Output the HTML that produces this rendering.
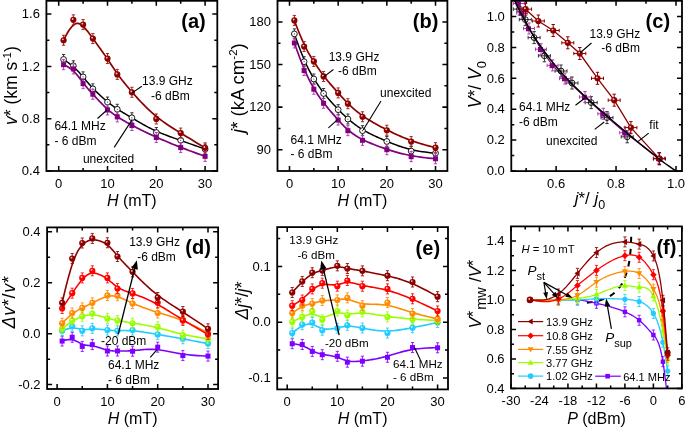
<!DOCTYPE html>
<html><head><meta charset="utf-8"><style>
html,body{margin:0;padding:0;background:#fff;overflow:hidden;}
svg{display:block;filter:blur(0.3px);}
</style></head><body>
<svg width="685" height="428" viewBox="0 0 685 428" font-family='"Liberation Sans", sans-serif'>
<defs>
<clipPath id="ca"><rect x="46.40" y="0.80" width="170.90" height="170.20"/></clipPath>
<clipPath id="cb"><rect x="277.50" y="0.80" width="169.90" height="170.20"/></clipPath>
<clipPath id="cc"><rect x="511.30" y="0.80" width="170.70" height="170.30"/></clipPath>
<clipPath id="cd"><rect x="47.10" y="227.40" width="171.00" height="161.60"/></clipPath>
<clipPath id="ce"><rect x="277.20" y="227.10" width="170.80" height="162.30"/></clipPath>
<clipPath id="cf"><rect x="511.00" y="226.40" width="170.90" height="162.00"/></clipPath>
</defs>
<rect width="685" height="428" fill="#fff"/>
<path d="M58.70,171.00V166.00 M58.70,0.80V5.80 M107.50,171.00V166.00 M107.50,0.80V5.80 M156.30,171.00V166.00 M156.30,0.80V5.80 M205.10,171.00V166.00 M205.10,0.80V5.80 M83.10,171.00V168.00 M83.10,0.80V3.80 M131.90,171.00V168.00 M131.90,0.80V3.80 M180.70,171.00V168.00 M180.70,0.80V3.80 M46.40,171.00H51.40 M217.30,171.00H212.30 M46.40,118.70H51.40 M217.30,118.70H212.30 M46.40,66.40H51.40 M217.30,66.40H212.30 M46.40,14.10H51.40 M217.30,14.10H212.30 M46.40,144.85H49.40 M217.30,144.85H214.30 M46.40,92.55H49.40 M217.30,92.55H214.30 M46.40,40.25H49.40 M217.30,40.25H214.30 " stroke="#000" stroke-width="1.53" fill="none"/>
<text x="58.70" y="187.50" text-anchor="middle" font-size="13">0</text>
<text x="107.50" y="187.50" text-anchor="middle" font-size="13">10</text>
<text x="156.30" y="187.50" text-anchor="middle" font-size="13">20</text>
<text x="205.10" y="187.50" text-anchor="middle" font-size="13">30</text>
<text x="39.90" y="175.29" text-anchor="end" font-size="13">0.4</text>
<text x="39.90" y="122.99" text-anchor="end" font-size="13">0.8</text>
<text x="39.90" y="70.69" text-anchor="end" font-size="13">1.2</text>
<text x="39.90" y="18.39" text-anchor="end" font-size="13">1.6</text>
<path d="M63.58,59.47 L65.01,60.41 L66.37,61.33 L67.66,62.25 L68.88,63.15 L70.05,64.04 L71.16,64.92 L72.21,65.79 L73.21,66.65 L74.16,67.50 L75.07,68.34 L75.93,69.16 L76.76,69.98 L77.54,70.78 L78.30,71.57 L79.02,72.35 L79.72,73.12 L80.39,73.88 L81.04,74.63 L81.67,75.36 L82.29,76.09 L82.89,76.80 L83.48,77.50 L84.07,78.19 L84.64,78.87 L85.21,79.54 L85.77,80.21 L86.33,80.87 L86.88,81.52 L87.43,82.16 L87.98,82.80 L88.53,83.44 L89.08,84.07 L89.63,84.70 L90.19,85.33 L90.75,85.95 L91.32,86.58 L91.89,87.20 L92.48,87.83 L93.07,88.46 L93.67,89.09 L94.29,89.72 L94.92,90.35 L95.55,90.99 L96.20,91.62 L96.85,92.26 L97.51,92.89 L98.17,93.52 L98.84,94.15 L99.51,94.77 L100.18,95.39 L100.85,96.00 L101.52,96.61 L102.19,97.21 L102.85,97.79 L103.51,98.37 L104.16,98.94 L104.81,99.50 L105.44,100.04 L106.07,100.58 L106.69,101.09 L107.29,101.59 L107.88,102.08 L108.47,102.56 L109.04,103.02 L109.61,103.47 L110.17,103.91 L110.73,104.35 L111.28,104.77 L111.83,105.18 L112.38,105.59 L112.93,105.99 L113.48,106.39 L114.03,106.79 L114.59,107.18 L115.15,107.56 L115.72,107.95 L116.29,108.34 L116.88,108.72 L117.47,109.11 L118.07,109.50 L118.69,109.90 L119.32,110.30 L119.96,110.70 L120.62,111.11 L121.29,111.52 L121.97,111.94 L122.68,112.37 L123.40,112.80 L124.13,113.24 L124.89,113.69 L125.66,114.15 L126.45,114.63 L127.26,115.11 L128.09,115.60 L128.94,116.10 L129.81,116.62 L130.71,117.15 L131.62,117.70 L132.56,118.26 L133.53,118.83 L134.51,119.42 L135.53,120.02 L136.57,120.64 L137.63,121.27 L138.72,121.91 L139.83,122.56 L140.97,123.22 L142.14,123.89 L143.34,124.56 L144.56,125.24 L145.81,125.92 L147.08,126.60 L148.39,127.29 L149.72,127.97 L151.08,128.66 L152.47,129.34 L153.89,130.02 L155.34,130.69 L156.82,131.36 L158.33,132.03 L159.87,132.68 L161.45,133.33 L163.08,133.98 L164.76,134.64 L166.50,135.31 L168.31,135.98 L170.19,136.68 L172.16,137.39 L174.22,138.14 L176.38,138.91 L178.65,139.71 L181.03,140.56 L183.53,141.44 L186.16,142.37 L188.93,143.35 L191.84,144.39 L194.91,145.48 L198.14,146.64 L201.53,147.87 L205.10,149.16" stroke="#000" stroke-width="1.50" fill="none"/>
<path d="M63.58,54.47V64.47 M61.98,54.47H65.18 M61.98,64.47H65.18 " stroke="#333" stroke-width="1.00" fill="none"/>
<path d="M73.34,60.75V70.75 M71.74,60.75H74.94 M71.74,70.75H74.94 " stroke="#333" stroke-width="1.00" fill="none"/>
<path d="M83.10,71.86V81.86 M81.50,71.86H84.70 M81.50,81.86H84.70 " stroke="#333" stroke-width="1.00" fill="none"/>
<path d="M92.86,83.89V93.89 M91.26,83.89H94.46 M91.26,93.89H94.46 " stroke="#333" stroke-width="1.00" fill="none"/>
<path d="M107.50,97.09V107.09 M105.90,97.09H109.10 M105.90,107.09H109.10 " stroke="#333" stroke-width="1.00" fill="none"/>
<path d="M117.26,104.29V114.29 M115.66,104.29H118.86 M115.66,114.29H118.86 " stroke="#333" stroke-width="1.00" fill="none"/>
<path d="M131.90,112.78V122.78 M130.30,112.78H133.50 M130.30,122.78H133.50 " stroke="#333" stroke-width="1.00" fill="none"/>
<path d="M156.30,127.56V137.56 M154.70,127.56H157.90 M154.70,137.56H157.90 " stroke="#333" stroke-width="1.00" fill="none"/>
<path d="M180.70,135.27V145.27 M179.10,135.27H182.30 M179.10,145.27H182.30 " stroke="#333" stroke-width="1.00" fill="none"/>
<path d="M205.10,144.16V154.16 M203.50,144.16H206.70 M203.50,154.16H206.70 " stroke="#333" stroke-width="1.00" fill="none"/>
<circle cx="63.58" cy="59.47" r="2.90" fill="#fff" stroke="#000" stroke-width="0.9"/><circle cx="63.58" cy="59.47" r="0.6" fill="#444"/>
<circle cx="73.34" cy="65.75" r="2.90" fill="#fff" stroke="#000" stroke-width="0.9"/><circle cx="73.34" cy="65.75" r="0.6" fill="#444"/>
<circle cx="83.10" cy="76.86" r="2.90" fill="#fff" stroke="#000" stroke-width="0.9"/><circle cx="83.10" cy="76.86" r="0.6" fill="#444"/>
<circle cx="92.86" cy="88.89" r="2.90" fill="#fff" stroke="#000" stroke-width="0.9"/><circle cx="92.86" cy="88.89" r="0.6" fill="#444"/>
<circle cx="107.50" cy="102.09" r="2.90" fill="#fff" stroke="#000" stroke-width="0.9"/><circle cx="107.50" cy="102.09" r="0.6" fill="#444"/>
<circle cx="117.26" cy="109.29" r="2.90" fill="#fff" stroke="#000" stroke-width="0.9"/><circle cx="117.26" cy="109.29" r="0.6" fill="#444"/>
<circle cx="131.90" cy="117.78" r="2.90" fill="#fff" stroke="#000" stroke-width="0.9"/><circle cx="131.90" cy="117.78" r="0.6" fill="#444"/>
<circle cx="156.30" cy="132.56" r="2.90" fill="#fff" stroke="#000" stroke-width="0.9"/><circle cx="156.30" cy="132.56" r="0.6" fill="#444"/>
<circle cx="180.70" cy="140.27" r="2.90" fill="#fff" stroke="#000" stroke-width="0.9"/><circle cx="180.70" cy="140.27" r="0.6" fill="#444"/>
<circle cx="205.10" cy="149.16" r="2.90" fill="#fff" stroke="#000" stroke-width="0.9"/><circle cx="205.10" cy="149.16" r="0.6" fill="#444"/>
<path d="M63.58,64.70 L65.01,65.35 L66.37,66.05 L67.66,66.78 L68.88,67.55 L70.05,68.36 L71.16,69.19 L72.21,70.05 L73.21,70.93 L74.16,71.83 L75.07,72.74 L75.93,73.66 L76.76,74.58 L77.54,75.51 L78.30,76.44 L79.02,77.35 L79.72,78.26 L80.39,79.16 L81.04,80.04 L81.67,80.90 L82.29,81.73 L82.89,82.54 L83.48,83.31 L84.07,84.07 L84.64,84.80 L85.21,85.51 L85.77,86.20 L86.33,86.87 L86.88,87.53 L87.43,88.18 L87.98,88.82 L88.53,89.45 L89.08,90.07 L89.63,90.69 L90.19,91.31 L90.75,91.93 L91.32,92.55 L91.89,93.18 L92.48,93.81 L93.07,94.45 L93.67,95.10 L94.29,95.76 L94.92,96.44 L95.55,97.12 L96.20,97.81 L96.85,98.51 L97.51,99.21 L98.17,99.91 L98.84,100.62 L99.51,101.32 L100.18,102.02 L100.85,102.71 L101.52,103.40 L102.19,104.08 L102.85,104.75 L103.51,105.41 L104.16,106.06 L104.81,106.69 L105.44,107.31 L106.07,107.90 L106.69,108.48 L107.29,109.03 L107.88,109.57 L108.47,110.08 L109.04,110.58 L109.61,111.06 L110.17,111.53 L110.73,111.98 L111.28,112.41 L111.83,112.84 L112.38,113.26 L112.93,113.67 L113.48,114.07 L114.03,114.46 L114.59,114.85 L115.15,115.23 L115.72,115.62 L116.29,116.00 L116.88,116.38 L117.47,116.77 L118.07,117.15 L118.69,117.54 L119.32,117.94 L119.96,118.34 L120.62,118.74 L121.29,119.16 L121.97,119.57 L122.68,119.99 L123.40,120.42 L124.13,120.85 L124.89,121.29 L125.66,121.74 L126.45,122.19 L127.26,122.65 L128.09,123.11 L128.94,123.59 L129.81,124.07 L130.71,124.55 L131.62,125.05 L132.56,125.55 L133.53,126.07 L134.51,126.59 L135.53,127.12 L136.57,127.65 L137.63,128.20 L138.72,128.75 L139.83,129.32 L140.97,129.89 L142.14,130.47 L143.34,131.05 L144.56,131.65 L145.81,132.25 L147.08,132.86 L148.39,133.48 L149.72,134.11 L151.08,134.75 L152.47,135.39 L153.89,136.04 L155.34,136.70 L156.82,137.37 L158.33,138.04 L159.87,138.72 L161.45,139.42 L163.08,140.12 L164.76,140.84 L166.50,141.58 L168.31,142.33 L170.19,143.11 L172.16,143.92 L174.22,144.75 L176.38,145.61 L178.65,146.50 L181.03,147.43 L183.53,148.39 L186.16,149.39 L188.93,150.43 L191.84,151.52 L194.91,152.65 L198.14,153.84 L201.53,155.07 L205.10,156.36" stroke="#800080" stroke-width="1.70" fill="none"/>
<path d="M63.58,59.70V69.70 M61.98,59.70H65.18 M61.98,69.70H65.18 " stroke="#b040b0" stroke-width="1.00" fill="none"/>
<path d="M73.34,63.88V73.88 M71.74,63.88H74.94 M71.74,73.88H74.94 " stroke="#b040b0" stroke-width="1.00" fill="none"/>
<path d="M83.10,78.66V88.66 M81.50,78.66H84.70 M81.50,88.66H84.70 " stroke="#b040b0" stroke-width="1.00" fill="none"/>
<path d="M92.86,89.25V99.25 M91.26,89.25H94.46 M91.26,99.25H94.46 " stroke="#b040b0" stroke-width="1.00" fill="none"/>
<path d="M107.50,104.94V114.94 M105.90,104.94H109.10 M105.90,114.94H109.10 " stroke="#b040b0" stroke-width="1.00" fill="none"/>
<path d="M117.26,111.87V121.87 M115.66,111.87H118.86 M115.66,121.87H118.86 " stroke="#b040b0" stroke-width="1.00" fill="none"/>
<path d="M131.90,120.50V130.50 M130.30,120.50H133.50 M130.30,130.50H133.50 " stroke="#b040b0" stroke-width="1.00" fill="none"/>
<path d="M156.30,132.53V142.53 M154.70,132.53H157.90 M154.70,142.53H157.90 " stroke="#b040b0" stroke-width="1.00" fill="none"/>
<path d="M180.70,142.60V152.60 M179.10,142.60H182.30 M179.10,152.60H182.30 " stroke="#b040b0" stroke-width="1.00" fill="none"/>
<path d="M205.10,151.36V161.36 M203.50,151.36H206.70 M203.50,161.36H206.70 " stroke="#b040b0" stroke-width="1.00" fill="none"/>
<rect x="61.08" y="62.20" width="5.00" height="5.00" fill="#800080"/>
<rect x="70.84" y="66.38" width="5.00" height="5.00" fill="#800080"/>
<rect x="80.60" y="81.16" width="5.00" height="5.00" fill="#800080"/>
<rect x="90.36" y="91.75" width="5.00" height="5.00" fill="#800080"/>
<rect x="105.00" y="107.44" width="5.00" height="5.00" fill="#800080"/>
<rect x="114.76" y="114.37" width="5.00" height="5.00" fill="#800080"/>
<rect x="129.40" y="123.00" width="5.00" height="5.00" fill="#800080"/>
<rect x="153.80" y="135.03" width="5.00" height="5.00" fill="#800080"/>
<rect x="178.20" y="145.10" width="5.00" height="5.00" fill="#800080"/>
<rect x="202.60" y="153.86" width="5.00" height="5.00" fill="#800080"/>
<path d="M63.58,40.25 L65.01,37.36 L66.37,34.79 L67.66,32.53 L68.88,30.57 L70.05,28.88 L71.16,27.45 L72.21,26.27 L73.21,25.31 L74.16,24.57 L75.07,24.02 L75.93,23.65 L76.76,23.44 L77.54,23.38 L78.30,23.45 L79.02,23.64 L79.72,23.92 L80.39,24.29 L81.04,24.72 L81.67,25.20 L82.29,25.71 L82.89,26.25 L83.48,26.80 L84.07,27.37 L84.64,27.96 L85.21,28.56 L85.77,29.18 L86.33,29.82 L86.88,30.47 L87.43,31.14 L87.98,31.82 L88.53,32.53 L89.08,33.24 L89.63,33.98 L90.19,34.73 L90.75,35.49 L91.32,36.27 L91.89,37.07 L92.48,37.88 L93.07,38.71 L93.67,39.55 L94.29,40.41 L94.92,41.28 L95.55,42.16 L96.20,43.06 L96.85,43.96 L97.51,44.88 L98.17,45.80 L98.84,46.72 L99.51,47.66 L100.18,48.59 L100.85,49.53 L101.52,50.47 L102.19,51.40 L102.85,52.34 L103.51,53.28 L104.16,54.21 L104.81,55.13 L105.44,56.05 L106.07,56.96 L106.69,57.86 L107.29,58.75 L107.88,59.63 L108.47,60.50 L109.04,61.36 L109.61,62.22 L110.17,63.07 L110.73,63.92 L111.28,64.75 L111.83,65.59 L112.38,66.42 L112.93,67.25 L113.48,68.08 L114.03,68.90 L114.59,69.73 L115.15,70.56 L115.72,71.38 L116.29,72.21 L116.88,73.05 L117.47,73.88 L118.07,74.72 L118.69,75.57 L119.32,76.42 L119.96,77.28 L120.62,78.15 L121.29,79.02 L121.97,79.91 L122.68,80.80 L123.40,81.71 L124.13,82.63 L124.89,83.56 L125.66,84.50 L126.45,85.46 L127.26,86.43 L128.09,87.42 L128.94,88.43 L129.81,89.46 L130.71,90.50 L131.62,91.56 L132.56,92.64 L133.53,93.75 L134.51,94.87 L135.53,96.02 L136.57,97.18 L137.63,98.36 L138.72,99.56 L139.83,100.77 L140.97,101.99 L142.14,103.21 L143.34,104.45 L144.56,105.69 L145.81,106.94 L147.08,108.19 L148.39,109.44 L149.72,110.69 L151.08,111.93 L152.47,113.17 L153.89,114.40 L155.34,115.63 L156.82,116.84 L158.33,118.05 L159.87,119.24 L161.45,120.42 L163.08,121.60 L164.76,122.79 L166.50,123.99 L168.31,125.21 L170.19,126.45 L172.16,127.73 L174.22,129.04 L176.38,130.40 L178.65,131.81 L181.03,133.28 L183.53,134.81 L186.16,136.41 L188.93,138.09 L191.84,139.85 L194.91,141.70 L198.14,143.65 L201.53,145.70 L205.10,147.86" stroke="#8e0000" stroke-width="1.70" fill="none"/>
<path d="M63.58,35.25V45.25 M61.98,35.25H65.18 M61.98,45.25H65.18 " stroke="#a82222" stroke-width="1.00" fill="none"/>
<path d="M73.34,14.85V24.85 M71.74,14.85H74.94 M71.74,24.85H74.94 " stroke="#a82222" stroke-width="1.00" fill="none"/>
<path d="M83.10,19.56V29.56 M81.50,19.56H84.70 M81.50,29.56H84.70 " stroke="#a82222" stroke-width="1.00" fill="none"/>
<path d="M92.86,33.55V43.55 M91.26,33.55H94.46 M91.26,43.55H94.46 " stroke="#a82222" stroke-width="1.00" fill="none"/>
<path d="M107.50,53.56V63.56 M105.90,53.56H109.10 M105.90,63.56H109.10 " stroke="#a82222" stroke-width="1.00" fill="none"/>
<path d="M117.26,69.38V79.38 M115.66,69.38H118.86 M115.66,79.38H118.86 " stroke="#a82222" stroke-width="1.00" fill="none"/>
<path d="M131.90,87.29V97.29 M130.30,87.29H133.50 M130.30,97.29H133.50 " stroke="#a82222" stroke-width="1.00" fill="none"/>
<path d="M156.30,113.96V123.96 M154.70,113.96H157.90 M154.70,123.96H157.90 " stroke="#a82222" stroke-width="1.00" fill="none"/>
<path d="M180.70,128.08V138.08 M179.10,128.08H182.30 M179.10,138.08H182.30 " stroke="#a82222" stroke-width="1.00" fill="none"/>
<path d="M205.10,142.86V152.86 M203.50,142.86H206.70 M203.50,152.86H206.70 " stroke="#a82222" stroke-width="1.00" fill="none"/>
<circle cx="63.58" cy="40.25" r="3.10" fill="#8e0000"/><circle cx="62.88" cy="39.35" r="0.93" fill="#fff" fill-opacity="0.75"/>
<circle cx="73.34" cy="19.85" r="3.10" fill="#8e0000"/><circle cx="72.64" cy="18.95" r="0.93" fill="#fff" fill-opacity="0.75"/>
<circle cx="83.10" cy="24.56" r="3.10" fill="#8e0000"/><circle cx="82.40" cy="23.66" r="0.93" fill="#fff" fill-opacity="0.75"/>
<circle cx="92.86" cy="38.55" r="3.10" fill="#8e0000"/><circle cx="92.16" cy="37.65" r="0.93" fill="#fff" fill-opacity="0.75"/>
<circle cx="107.50" cy="58.56" r="3.10" fill="#8e0000"/><circle cx="106.80" cy="57.66" r="0.93" fill="#fff" fill-opacity="0.75"/>
<circle cx="117.26" cy="74.38" r="3.10" fill="#8e0000"/><circle cx="116.56" cy="73.48" r="0.93" fill="#fff" fill-opacity="0.75"/>
<circle cx="131.90" cy="92.29" r="3.10" fill="#8e0000"/><circle cx="131.20" cy="91.39" r="0.93" fill="#fff" fill-opacity="0.75"/>
<circle cx="156.30" cy="118.96" r="3.10" fill="#8e0000"/><circle cx="155.60" cy="118.06" r="0.93" fill="#fff" fill-opacity="0.75"/>
<circle cx="180.70" cy="133.08" r="3.10" fill="#8e0000"/><circle cx="180.00" cy="132.18" r="0.93" fill="#fff" fill-opacity="0.75"/>
<circle cx="205.10" cy="147.86" r="3.10" fill="#8e0000"/><circle cx="204.40" cy="146.96" r="0.93" fill="#fff" fill-opacity="0.75"/>
<rect x="46.40" y="0.80" width="170.90" height="170.20" fill="none" stroke="#000" stroke-width="1.80"/>
<text x="181.30" y="27.90" font-size="20" text-anchor="start" font-weight="bold">(a)</text>
<text x="142.10" y="84.60" font-size="12" text-anchor="start" >13.9 GHz</text>
<text x="151.10" y="99.50" font-size="12" text-anchor="start" >-6 dBm</text>
<line x1="141.80" y1="86.30" x2="132.50" y2="92.60" stroke="#000" stroke-width="1.10"/>
<text x="54.40" y="130.30" font-size="12" text-anchor="start" >64.1 MHz</text>
<text x="54.40" y="144.90" font-size="12" text-anchor="start" >- 6 dBm</text>
<line x1="97.50" y1="118.50" x2="107.00" y2="110.00" stroke="#000" stroke-width="1.10"/>
<text x="82.90" y="162.90" font-size="12" text-anchor="start" >unexcited</text>
<line x1="114.20" y1="147.40" x2="132.30" y2="119.40" stroke="#000" stroke-width="1.10"/>
<text x="131.80" y="205.90" font-size="16" text-anchor="middle" ><tspan font-style="italic">H</tspan> (mT)</text>
<text transform="translate(17.30,125.00) rotate(-90)" font-size="17.5" letter-spacing="0"><tspan font-style="italic">v</tspan>* (km s<tspan font-size="11" dy="-6.5">-1</tspan><tspan dy="6.5">)</tspan></text>
<path d="M289.50,171.00V166.00 M289.50,0.80V5.80 M338.17,171.00V166.00 M338.17,0.80V5.80 M386.84,171.00V166.00 M386.84,0.80V5.80 M435.51,171.00V166.00 M435.51,0.80V5.80 M313.83,171.00V168.00 M313.83,0.80V3.80 M362.50,171.00V168.00 M362.50,0.80V3.80 M411.18,171.00V168.00 M411.18,0.80V3.80 M277.50,149.69H282.50 M447.40,149.69H442.40 M277.50,107.12H282.50 M447.40,107.12H442.40 M277.50,64.55H282.50 M447.40,64.55H442.40 M277.50,21.98H282.50 M447.40,21.98H442.40 M277.50,128.40H280.50 M447.40,128.40H444.40 M277.50,85.83H280.50 M447.40,85.83H444.40 M277.50,43.26H280.50 M447.40,43.26H444.40 " stroke="#000" stroke-width="1.53" fill="none"/>
<text x="289.50" y="187.50" text-anchor="middle" font-size="13">0</text>
<text x="338.17" y="187.50" text-anchor="middle" font-size="13">10</text>
<text x="386.84" y="187.50" text-anchor="middle" font-size="13">20</text>
<text x="435.51" y="187.50" text-anchor="middle" font-size="13">30</text>
<text x="271.00" y="153.98" text-anchor="end" font-size="13">90</text>
<text x="271.00" y="111.41" text-anchor="end" font-size="13">120</text>
<text x="271.00" y="68.84" text-anchor="end" font-size="13">150</text>
<text x="271.00" y="26.27" text-anchor="end" font-size="13">180</text>
<path d="M294.37,33.90 L295.79,37.93 L297.15,41.69 L298.43,45.18 L299.66,48.43 L300.82,51.44 L301.92,54.22 L302.97,56.80 L303.97,59.18 L304.92,61.38 L305.82,63.41 L306.69,65.27 L307.51,67.00 L308.29,68.59 L309.05,70.06 L309.77,71.42 L310.46,72.70 L311.13,73.89 L311.78,75.01 L312.41,76.08 L313.02,77.11 L313.63,78.11 L314.22,79.07 L314.80,80.02 L315.37,80.94 L315.94,81.84 L316.50,82.72 L317.05,83.58 L317.61,84.42 L318.15,85.24 L318.70,86.06 L319.25,86.86 L319.80,87.65 L320.35,88.43 L320.91,89.20 L321.47,89.97 L322.03,90.73 L322.60,91.49 L323.19,92.26 L323.78,93.02 L324.38,93.78 L324.99,94.55 L325.62,95.32 L326.25,96.09 L326.90,96.87 L327.55,97.64 L328.21,98.42 L328.87,99.19 L329.53,99.96 L330.20,100.72 L330.87,101.48 L331.54,102.23 L332.21,102.98 L332.87,103.71 L333.53,104.44 L334.19,105.16 L334.84,105.86 L335.48,106.55 L336.12,107.23 L336.74,107.89 L337.36,108.54 L337.96,109.17 L338.55,109.78 L339.13,110.38 L339.71,110.97 L340.27,111.54 L340.83,112.10 L341.39,112.66 L341.94,113.20 L342.49,113.73 L343.04,114.26 L343.58,114.78 L344.13,115.30 L344.69,115.82 L345.24,116.33 L345.80,116.84 L346.37,117.35 L346.94,117.86 L347.52,118.38 L348.11,118.90 L348.72,119.42 L349.33,119.95 L349.96,120.48 L350.60,121.02 L351.25,121.56 L351.92,122.11 L352.61,122.66 L353.31,123.21 L354.02,123.77 L354.76,124.33 L355.51,124.89 L356.28,125.45 L357.07,126.01 L357.87,126.58 L358.70,127.15 L359.55,127.71 L360.42,128.28 L361.31,128.84 L362.23,129.41 L363.17,129.97 L364.13,130.53 L365.11,131.09 L366.12,131.65 L367.16,132.21 L368.22,132.76 L369.30,133.32 L370.42,133.88 L371.55,134.44 L372.72,135.00 L373.91,135.56 L375.13,136.13 L376.37,136.70 L377.65,137.27 L378.95,137.85 L380.28,138.43 L381.64,139.02 L383.02,139.62 L384.44,140.22 L385.89,140.83 L387.36,141.45 L388.87,142.07 L390.41,142.71 L391.98,143.35 L393.60,144.00 L395.28,144.65 L397.01,145.30 L398.81,145.94 L400.69,146.58 L402.66,147.21 L404.71,147.83 L406.87,148.44 L409.13,149.03 L411.50,149.60 L414.00,150.15 L416.62,150.68 L419.38,151.19 L422.29,151.66 L425.35,152.11 L428.56,152.52 L431.95,152.90 L435.51,153.24" stroke="#000" stroke-width="1.50" fill="none"/>
<path d="M294.37,28.90V38.90 M292.77,28.90H295.97 M292.77,38.90H295.97 " stroke="#333" stroke-width="1.00" fill="none"/>
<path d="M304.10,56.71V66.71 M302.50,56.71H305.70 M302.50,66.71H305.70 " stroke="#333" stroke-width="1.00" fill="none"/>
<path d="M313.83,74.02V84.02 M312.23,74.02H315.44 M312.23,84.02H315.44 " stroke="#333" stroke-width="1.00" fill="none"/>
<path d="M323.57,88.50V98.50 M321.97,88.50H325.17 M321.97,98.50H325.17 " stroke="#333" stroke-width="1.00" fill="none"/>
<path d="M338.17,104.67V114.67 M336.57,104.67H339.77 M336.57,114.67H339.77 " stroke="#333" stroke-width="1.00" fill="none"/>
<path d="M347.90,114.04V124.04 M346.30,114.04H349.50 M346.30,124.04H349.50 " stroke="#333" stroke-width="1.00" fill="none"/>
<path d="M362.50,125.68V135.68 M360.90,125.68H364.11 M360.90,135.68H364.11 " stroke="#333" stroke-width="1.00" fill="none"/>
<path d="M386.84,136.46V146.46 M385.24,136.46H388.44 M385.24,146.46H388.44 " stroke="#333" stroke-width="1.00" fill="none"/>
<path d="M411.18,146.11V156.11 M409.57,146.11H412.78 M409.57,156.11H412.78 " stroke="#333" stroke-width="1.00" fill="none"/>
<path d="M435.51,148.24V158.24 M433.91,148.24H437.11 M433.91,158.24H437.11 " stroke="#333" stroke-width="1.00" fill="none"/>
<circle cx="294.37" cy="33.90" r="2.90" fill="#fff" stroke="#000" stroke-width="0.9"/><circle cx="294.37" cy="33.90" r="0.6" fill="#444"/>
<circle cx="304.10" cy="61.71" r="2.90" fill="#fff" stroke="#000" stroke-width="0.9"/><circle cx="304.10" cy="61.71" r="0.6" fill="#444"/>
<circle cx="313.83" cy="79.02" r="2.90" fill="#fff" stroke="#000" stroke-width="0.9"/><circle cx="313.83" cy="79.02" r="0.6" fill="#444"/>
<circle cx="323.57" cy="93.50" r="2.90" fill="#fff" stroke="#000" stroke-width="0.9"/><circle cx="323.57" cy="93.50" r="0.6" fill="#444"/>
<circle cx="338.17" cy="109.67" r="2.90" fill="#fff" stroke="#000" stroke-width="0.9"/><circle cx="338.17" cy="109.67" r="0.6" fill="#444"/>
<circle cx="347.90" cy="119.04" r="2.90" fill="#fff" stroke="#000" stroke-width="0.9"/><circle cx="347.90" cy="119.04" r="0.6" fill="#444"/>
<circle cx="362.50" cy="130.68" r="2.90" fill="#fff" stroke="#000" stroke-width="0.9"/><circle cx="362.50" cy="130.68" r="0.6" fill="#444"/>
<circle cx="386.84" cy="141.46" r="2.90" fill="#fff" stroke="#000" stroke-width="0.9"/><circle cx="386.84" cy="141.46" r="0.6" fill="#444"/>
<circle cx="411.18" cy="151.11" r="2.90" fill="#fff" stroke="#000" stroke-width="0.9"/><circle cx="411.18" cy="151.11" r="0.6" fill="#444"/>
<circle cx="435.51" cy="153.24" r="2.90" fill="#fff" stroke="#000" stroke-width="0.9"/><circle cx="435.51" cy="153.24" r="0.6" fill="#444"/>
<path d="M294.37,42.98 L295.79,46.98 L297.15,50.71 L298.43,54.20 L299.66,57.45 L300.82,60.47 L301.92,63.28 L302.97,65.89 L303.97,68.31 L304.92,70.55 L305.82,72.63 L306.69,74.55 L307.51,76.33 L308.29,77.99 L309.05,79.52 L309.77,80.94 L310.46,82.28 L311.13,83.53 L311.78,84.71 L312.41,85.83 L313.02,86.90 L313.63,87.94 L314.22,88.94 L314.80,89.91 L315.37,90.86 L315.94,91.77 L316.50,92.66 L317.05,93.53 L317.61,94.38 L318.15,95.21 L318.70,96.03 L319.25,96.83 L319.80,97.62 L320.35,98.39 L320.91,99.17 L321.47,99.93 L322.03,100.69 L322.60,101.45 L323.19,102.21 L323.78,102.97 L324.38,103.74 L324.99,104.51 L325.62,105.29 L326.25,106.07 L326.90,106.86 L327.55,107.65 L328.21,108.44 L328.87,109.23 L329.53,110.02 L330.20,110.81 L330.87,111.59 L331.54,112.37 L332.21,113.14 L332.87,113.91 L333.53,114.67 L334.19,115.42 L334.84,116.17 L335.48,116.90 L336.12,117.62 L336.74,118.32 L337.36,119.02 L337.96,119.69 L338.55,120.36 L339.13,121.00 L339.71,121.64 L340.27,122.26 L340.83,122.87 L341.39,123.47 L341.94,124.06 L342.49,124.64 L343.04,125.21 L343.58,125.77 L344.13,126.32 L344.69,126.86 L345.24,127.40 L345.80,127.93 L346.37,128.45 L346.94,128.97 L347.52,129.49 L348.11,130.00 L348.72,130.51 L349.33,131.02 L349.96,131.52 L350.60,132.02 L351.25,132.52 L351.92,133.02 L352.61,133.51 L353.31,134.01 L354.02,134.50 L354.76,134.99 L355.51,135.47 L356.28,135.96 L357.07,136.44 L357.87,136.93 L358.70,137.41 L359.55,137.89 L360.42,138.37 L361.31,138.85 L362.23,139.33 L363.17,139.80 L364.13,140.28 L365.11,140.75 L366.12,141.23 L367.16,141.70 L368.22,142.17 L369.30,142.65 L370.42,143.12 L371.55,143.60 L372.72,144.07 L373.91,144.55 L375.13,145.02 L376.37,145.50 L377.65,145.98 L378.95,146.46 L380.28,146.94 L381.64,147.42 L383.02,147.91 L384.44,148.39 L385.89,148.88 L387.36,149.37 L388.87,149.87 L390.41,150.36 L391.98,150.86 L393.60,151.36 L395.28,151.86 L397.01,152.35 L398.81,152.84 L400.69,153.33 L402.66,153.81 L404.71,154.29 L406.87,154.76 L409.13,155.22 L411.50,155.67 L414.00,156.11 L416.62,156.53 L419.38,156.95 L422.29,157.34 L425.35,157.73 L428.56,158.09 L431.95,158.44 L435.51,158.77" stroke="#800080" stroke-width="1.70" fill="none"/>
<path d="M294.37,37.98V47.98 M292.77,37.98H295.97 M292.77,47.98H295.97 " stroke="#b040b0" stroke-width="1.00" fill="none"/>
<path d="M304.10,65.51V75.51 M302.50,65.51H305.70 M302.50,75.51H305.70 " stroke="#b040b0" stroke-width="1.00" fill="none"/>
<path d="M313.83,84.24V94.24 M312.23,84.24H315.44 M312.23,94.24H315.44 " stroke="#b040b0" stroke-width="1.00" fill="none"/>
<path d="M323.57,98.29V108.29 M321.97,98.29H325.17 M321.97,108.29H325.17 " stroke="#b040b0" stroke-width="1.00" fill="none"/>
<path d="M338.17,115.03V125.03 M336.57,115.03H339.77 M336.57,125.03H339.77 " stroke="#b040b0" stroke-width="1.00" fill="none"/>
<path d="M347.90,125.68V135.68 M346.30,125.68H349.50 M346.30,135.68H349.50 " stroke="#b040b0" stroke-width="1.00" fill="none"/>
<path d="M362.50,135.32V145.32 M360.90,135.32H364.11 M360.90,145.32H364.11 " stroke="#b040b0" stroke-width="1.00" fill="none"/>
<path d="M386.84,144.69V154.69 M385.24,144.69H388.44 M385.24,154.69H388.44 " stroke="#b040b0" stroke-width="1.00" fill="none"/>
<path d="M411.18,151.64V161.64 M409.57,151.64H412.78 M409.57,161.64H412.78 " stroke="#b040b0" stroke-width="1.00" fill="none"/>
<path d="M435.51,153.77V163.77 M433.91,153.77H437.11 M433.91,163.77H437.11 " stroke="#b040b0" stroke-width="1.00" fill="none"/>
<rect x="291.87" y="40.48" width="5.00" height="5.00" fill="#800080"/>
<rect x="301.60" y="68.01" width="5.00" height="5.00" fill="#800080"/>
<rect x="311.33" y="86.74" width="5.00" height="5.00" fill="#800080"/>
<rect x="321.07" y="100.79" width="5.00" height="5.00" fill="#800080"/>
<rect x="335.67" y="117.53" width="5.00" height="5.00" fill="#800080"/>
<rect x="345.40" y="128.18" width="5.00" height="5.00" fill="#800080"/>
<rect x="360.00" y="137.82" width="5.00" height="5.00" fill="#800080"/>
<rect x="384.34" y="147.19" width="5.00" height="5.00" fill="#800080"/>
<rect x="408.68" y="154.14" width="5.00" height="5.00" fill="#800080"/>
<rect x="433.01" y="156.27" width="5.00" height="5.00" fill="#800080"/>
<path d="M294.37,20.42 L295.79,24.20 L297.15,27.71 L298.43,30.97 L299.66,33.99 L300.82,36.78 L301.92,39.35 L302.97,41.72 L303.97,43.91 L304.92,45.92 L305.82,47.77 L306.69,49.47 L307.51,51.03 L308.29,52.47 L309.05,53.80 L309.77,55.04 L310.46,56.19 L311.13,57.26 L311.78,58.29 L312.41,59.26 L313.02,60.21 L313.63,61.14 L314.22,62.04 L314.80,62.94 L315.37,63.81 L315.94,64.68 L316.50,65.53 L317.05,66.37 L317.61,67.20 L318.15,68.02 L318.70,68.83 L319.25,69.63 L319.80,70.43 L320.35,71.22 L320.91,72.01 L321.47,72.79 L322.03,73.57 L322.60,74.35 L323.19,75.14 L323.78,75.92 L324.38,76.71 L324.99,77.50 L325.62,78.29 L326.25,79.08 L326.90,79.88 L327.55,80.67 L328.21,81.46 L328.87,82.26 L329.53,83.04 L330.20,83.83 L330.87,84.61 L331.54,85.39 L332.21,86.16 L332.87,86.92 L333.53,87.67 L334.19,88.42 L334.84,89.16 L335.48,89.88 L336.12,90.59 L336.74,91.30 L337.36,91.98 L337.96,92.66 L338.55,93.32 L339.13,93.97 L339.71,94.61 L340.27,95.23 L340.83,95.85 L341.39,96.46 L341.94,97.06 L342.49,97.66 L343.04,98.25 L343.58,98.84 L344.13,99.42 L344.69,100.00 L345.24,100.58 L345.80,101.16 L346.37,101.74 L346.94,102.33 L347.52,102.91 L348.11,103.50 L348.72,104.09 L349.33,104.69 L349.96,105.30 L350.60,105.91 L351.25,106.52 L351.92,107.14 L352.61,107.76 L353.31,108.39 L354.02,109.02 L354.76,109.66 L355.51,110.30 L356.28,110.94 L357.07,111.59 L357.87,112.24 L358.70,112.89 L359.55,113.54 L360.42,114.20 L361.31,114.86 L362.23,115.52 L363.17,116.18 L364.13,116.84 L365.11,117.50 L366.12,118.17 L367.16,118.84 L368.22,119.51 L369.30,120.18 L370.42,120.85 L371.55,121.53 L372.72,122.21 L373.91,122.90 L375.13,123.59 L376.37,124.29 L377.65,124.99 L378.95,125.70 L380.28,126.41 L381.64,127.13 L383.02,127.86 L384.44,128.59 L385.89,129.33 L387.36,130.08 L388.87,130.84 L390.41,131.61 L391.98,132.38 L393.60,133.17 L395.28,133.96 L397.01,134.76 L398.81,135.57 L400.69,136.39 L402.66,137.22 L404.71,138.05 L406.87,138.89 L409.13,139.74 L411.50,140.60 L414.00,141.46 L416.62,142.33 L419.38,143.21 L422.29,144.09 L425.35,144.99 L428.56,145.89 L431.95,146.79 L435.51,147.70" stroke="#8e0000" stroke-width="1.70" fill="none"/>
<path d="M294.37,15.42V25.42 M292.77,15.42H295.97 M292.77,25.42H295.97 " stroke="#a82222" stroke-width="1.00" fill="none"/>
<path d="M304.10,41.53V51.53 M302.50,41.53H305.70 M302.50,51.53H305.70 " stroke="#a82222" stroke-width="1.00" fill="none"/>
<path d="M313.83,56.43V66.43 M312.23,56.43H315.44 M312.23,66.43H315.44 " stroke="#a82222" stroke-width="1.00" fill="none"/>
<path d="M323.57,71.47V81.47 M321.97,71.47H325.17 M321.97,81.47H325.17 " stroke="#a82222" stroke-width="1.00" fill="none"/>
<path d="M338.17,87.93V97.93 M336.57,87.93H339.77 M336.57,97.93H339.77 " stroke="#a82222" stroke-width="1.00" fill="none"/>
<path d="M347.90,98.71V108.71 M346.30,98.71H349.50 M346.30,108.71H349.50 " stroke="#a82222" stroke-width="1.00" fill="none"/>
<path d="M362.50,111.77V121.77 M360.90,111.77H364.11 M360.90,121.77H364.11 " stroke="#a82222" stroke-width="1.00" fill="none"/>
<path d="M386.84,125.25V135.25 M385.24,125.25H388.44 M385.24,135.25H388.44 " stroke="#a82222" stroke-width="1.00" fill="none"/>
<path d="M411.18,136.60V146.60 M409.57,136.60H412.78 M409.57,146.60H412.78 " stroke="#a82222" stroke-width="1.00" fill="none"/>
<path d="M435.51,142.70V152.70 M433.91,142.70H437.11 M433.91,152.70H437.11 " stroke="#a82222" stroke-width="1.00" fill="none"/>
<circle cx="294.37" cy="20.42" r="3.10" fill="#8e0000"/><circle cx="293.67" cy="19.52" r="0.93" fill="#fff" fill-opacity="0.75"/>
<circle cx="304.10" cy="46.53" r="3.10" fill="#8e0000"/><circle cx="303.40" cy="45.63" r="0.93" fill="#fff" fill-opacity="0.75"/>
<circle cx="313.83" cy="61.43" r="3.10" fill="#8e0000"/><circle cx="313.13" cy="60.53" r="0.93" fill="#fff" fill-opacity="0.75"/>
<circle cx="323.57" cy="76.47" r="3.10" fill="#8e0000"/><circle cx="322.87" cy="75.57" r="0.93" fill="#fff" fill-opacity="0.75"/>
<circle cx="338.17" cy="92.93" r="3.10" fill="#8e0000"/><circle cx="337.47" cy="92.03" r="0.93" fill="#fff" fill-opacity="0.75"/>
<circle cx="347.90" cy="103.71" r="3.10" fill="#8e0000"/><circle cx="347.20" cy="102.81" r="0.93" fill="#fff" fill-opacity="0.75"/>
<circle cx="362.50" cy="116.77" r="3.10" fill="#8e0000"/><circle cx="361.81" cy="115.87" r="0.93" fill="#fff" fill-opacity="0.75"/>
<circle cx="386.84" cy="130.25" r="3.10" fill="#8e0000"/><circle cx="386.14" cy="129.35" r="0.93" fill="#fff" fill-opacity="0.75"/>
<circle cx="411.18" cy="141.60" r="3.10" fill="#8e0000"/><circle cx="410.48" cy="140.70" r="0.93" fill="#fff" fill-opacity="0.75"/>
<circle cx="435.51" cy="147.70" r="3.10" fill="#8e0000"/><circle cx="434.81" cy="146.80" r="0.93" fill="#fff" fill-opacity="0.75"/>
<rect x="277.50" y="0.80" width="169.90" height="170.20" fill="none" stroke="#000" stroke-width="1.80"/>
<text x="412.80" y="28.20" font-size="20" text-anchor="start" font-weight="bold">(b)</text>
<text x="328.70" y="60.50" font-size="12" text-anchor="start" >13.9 GHz</text>
<text x="338.10" y="74.80" font-size="12" text-anchor="start" >-6 dBm</text>
<line x1="333.40" y1="69.50" x2="323.70" y2="76.90" stroke="#000" stroke-width="1.10"/>
<text x="380.10" y="96.80" font-size="12" text-anchor="start" >unexcited</text>
<line x1="381.00" y1="101.00" x2="363.20" y2="130.00" stroke="#000" stroke-width="1.10"/>
<text x="290.50" y="143.50" font-size="12" text-anchor="start" >64.1 MHz</text>
<text x="290.50" y="157.90" font-size="12" text-anchor="start" >- 6 dBm</text>
<line x1="328.40" y1="127.80" x2="337.80" y2="119.40" stroke="#000" stroke-width="1.10"/>
<text x="362.50" y="205.90" font-size="16" text-anchor="middle" ><tspan font-style="italic">H</tspan> (mT)</text>
<text transform="translate(244.00,133.00) rotate(-90)" font-size="18.6" letter-spacing="0"><tspan font-style="italic">j</tspan>* (kA cm<tspan font-size="11.5" dy="-7">-2</tspan><tspan dy="7">)</tspan></text>
<path d="M556.10,171.10V166.10 M556.10,0.80V5.80 M616.05,171.10V166.10 M616.05,0.80V5.80 M676.00,171.10V166.10 M676.00,0.80V5.80 M526.12,171.10V168.10 M526.12,0.80V3.80 M586.08,171.10V168.10 M586.08,0.80V3.80 M646.03,171.10V168.10 M646.03,0.80V3.80 M511.30,171.00H516.30 M682.00,171.00H677.00 M511.30,140.10H516.30 M682.00,140.10H677.00 M511.30,109.20H516.30 M682.00,109.20H677.00 M511.30,78.30H516.30 M682.00,78.30H677.00 M511.30,47.40H516.30 M682.00,47.40H677.00 M511.30,16.50H516.30 M682.00,16.50H677.00 M511.30,155.55H514.30 M682.00,155.55H679.00 M511.30,124.65H514.30 M682.00,124.65H679.00 M511.30,93.75H514.30 M682.00,93.75H679.00 M511.30,62.85H514.30 M682.00,62.85H679.00 M511.30,31.95H514.30 M682.00,31.95H679.00 " stroke="#000" stroke-width="1.53" fill="none"/>
<text x="556.10" y="187.60" text-anchor="middle" font-size="13">0.6</text>
<text x="616.05" y="187.60" text-anchor="middle" font-size="13">0.8</text>
<text x="676.00" y="187.60" text-anchor="middle" font-size="13">1.0</text>
<text x="504.80" y="175.29" text-anchor="end" font-size="13">0.0</text>
<text x="504.80" y="144.39" text-anchor="end" font-size="13">0.2</text>
<text x="504.80" y="113.49" text-anchor="end" font-size="13">0.4</text>
<text x="504.80" y="82.59" text-anchor="end" font-size="13">0.6</text>
<text x="504.80" y="51.69" text-anchor="end" font-size="13">0.8</text>
<text x="504.80" y="20.79" text-anchor="end" font-size="13">1.0</text>
<g clip-path="url(#cc)">
<path d="M518.80,3.50 L522.00,12.80 L529.00,28.50 L541.00,49.20 L552.60,65.40 L565.00,78.50 L585.00,97.00 L603.30,113.80 L625.20,132.70 L659.00,158.30" stroke="#800080" stroke-width="1.2" fill="none"/>
<path d="M519.40,3.10V15.10 M517.70,3.10H521.10 M517.70,15.10H521.10 M513.40,9.10H525.40 M513.40,7.40V10.80 M525.40,7.40V10.80 " stroke="#333" stroke-width="1.00" fill="none"/>
<path d="M525.30,13.60V25.60 M523.60,13.60H527.00 M523.60,25.60H527.00 M519.30,19.60H531.30 M519.30,17.90V21.30 M531.30,17.90V21.30 " stroke="#333" stroke-width="1.00" fill="none"/>
<path d="M534.10,31.60V43.60 M532.40,31.60H535.80 M532.40,43.60H535.80 M528.10,37.60H540.10 M528.10,35.90V39.30 M540.10,35.90V39.30 " stroke="#333" stroke-width="1.00" fill="none"/>
<path d="M544.40,49.80V61.80 M542.70,49.80H546.10 M542.70,61.80H546.10 M538.40,55.80H550.40 M538.40,54.10V57.50 M550.40,54.10V57.50 " stroke="#333" stroke-width="1.00" fill="none"/>
<path d="M561.00,65.00V77.00 M559.30,65.00H562.70 M559.30,77.00H562.70 M555.00,71.00H567.00 M555.00,69.30V72.70 M567.00,69.30V72.70 " stroke="#333" stroke-width="1.00" fill="none"/>
<path d="M572.00,77.00V89.00 M570.30,77.00H573.70 M570.30,89.00H573.70 M566.00,83.00H578.00 M566.00,81.30V84.70 M578.00,81.30V84.70 " stroke="#333" stroke-width="1.00" fill="none"/>
<path d="M591.20,96.60V108.60 M589.50,96.60H592.90 M589.50,108.60H592.90 M585.20,102.60H597.20 M585.20,100.90V104.30 M597.20,100.90V104.30 " stroke="#333" stroke-width="1.00" fill="none"/>
<path d="M607.00,111.60V123.60 M605.30,111.60H608.70 M605.30,123.60H608.70 M601.00,117.60H613.00 M601.00,115.90V119.30 M613.00,115.90V119.30 " stroke="#333" stroke-width="1.00" fill="none"/>
<path d="M627.20,130.80V142.80 M625.50,130.80H628.90 M625.50,142.80H628.90 M621.20,136.80H633.20 M621.20,135.10V138.50 M633.20,135.10V138.50 " stroke="#333" stroke-width="1.00" fill="none"/>
<path d="M659.50,152.80V164.80 M657.80,152.80H661.20 M657.80,164.80H661.20 M653.50,158.80H665.50 M653.50,157.10V160.50 M665.50,157.10V160.50 " stroke="#333" stroke-width="1.00" fill="none"/>
<circle cx="519.40" cy="9.10" r="2.9" fill="none" stroke="#000" stroke-width="0.9"/>
<circle cx="525.30" cy="19.60" r="2.9" fill="none" stroke="#000" stroke-width="0.9"/>
<circle cx="534.10" cy="37.60" r="2.9" fill="none" stroke="#000" stroke-width="0.9"/>
<circle cx="544.40" cy="55.80" r="2.9" fill="none" stroke="#000" stroke-width="0.9"/>
<circle cx="561.00" cy="71.00" r="2.9" fill="none" stroke="#000" stroke-width="0.9"/>
<circle cx="572.00" cy="83.00" r="2.9" fill="none" stroke="#000" stroke-width="0.9"/>
<circle cx="591.20" cy="102.60" r="2.9" fill="none" stroke="#000" stroke-width="0.9"/>
<circle cx="607.00" cy="117.60" r="2.9" fill="none" stroke="#000" stroke-width="0.9"/>
<circle cx="627.20" cy="136.80" r="2.9" fill="none" stroke="#000" stroke-width="0.9"/>
<circle cx="659.50" cy="158.80" r="2.9" fill="none" stroke="#000" stroke-width="0.9"/>
<path d="M518.80,-2.00V9.00 M517.10,-2.00H520.50 M517.10,9.00H520.50 M513.30,3.50H524.30 M513.30,1.80V5.20 M524.30,1.80V5.20 " stroke="#b040b0" stroke-width="1.00" fill="none"/>
<path d="M522.00,7.30V18.30 M520.30,7.30H523.70 M520.30,18.30H523.70 M516.50,12.80H527.50 M516.50,11.10V14.50 M527.50,11.10V14.50 " stroke="#b040b0" stroke-width="1.00" fill="none"/>
<path d="M529.00,23.00V34.00 M527.30,23.00H530.70 M527.30,34.00H530.70 M523.50,28.50H534.50 M523.50,26.80V30.20 M534.50,26.80V30.20 " stroke="#b040b0" stroke-width="1.00" fill="none"/>
<path d="M541.00,43.70V54.70 M539.30,43.70H542.70 M539.30,54.70H542.70 M535.50,49.20H546.50 M535.50,47.50V50.90 M546.50,47.50V50.90 " stroke="#b040b0" stroke-width="1.00" fill="none"/>
<path d="M552.60,59.90V70.90 M550.90,59.90H554.30 M550.90,70.90H554.30 M547.10,65.40H558.10 M547.10,63.70V67.10 M558.10,63.70V67.10 " stroke="#b040b0" stroke-width="1.00" fill="none"/>
<path d="M565.00,73.00V84.00 M563.30,73.00H566.70 M563.30,84.00H566.70 M559.50,78.50H570.50 M559.50,76.80V80.20 M570.50,76.80V80.20 " stroke="#b040b0" stroke-width="1.00" fill="none"/>
<path d="M585.00,91.50V102.50 M583.30,91.50H586.70 M583.30,102.50H586.70 M579.50,97.00H590.50 M579.50,95.30V98.70 M590.50,95.30V98.70 " stroke="#b040b0" stroke-width="1.00" fill="none"/>
<path d="M603.30,108.30V119.30 M601.60,108.30H605.00 M601.60,119.30H605.00 M597.80,113.80H608.80 M597.80,112.10V115.50 M608.80,112.10V115.50 " stroke="#b040b0" stroke-width="1.00" fill="none"/>
<path d="M625.20,127.20V138.20 M623.50,127.20H626.90 M623.50,138.20H626.90 M619.70,132.70H630.70 M619.70,131.00V134.40 M630.70,131.00V134.40 " stroke="#b040b0" stroke-width="1.00" fill="none"/>
<path d="M659.00,152.80V163.80 M657.30,152.80H660.70 M657.30,163.80H660.70 M653.50,158.30H664.50 M653.50,156.60V160.00 M664.50,156.60V160.00 " stroke="#b040b0" stroke-width="1.00" fill="none"/>
<rect x="515.80" y="1.30" width="5.00" height="5.00" fill="#800080"/>
<rect x="519.00" y="10.60" width="5.00" height="5.00" fill="#800080"/>
<rect x="526.00" y="26.30" width="5.00" height="5.00" fill="#800080"/>
<rect x="538.00" y="47.00" width="5.00" height="5.00" fill="#800080"/>
<rect x="549.60" y="63.20" width="5.00" height="5.00" fill="#800080"/>
<rect x="562.00" y="76.30" width="5.00" height="5.00" fill="#800080"/>
<rect x="582.00" y="94.80" width="5.00" height="5.00" fill="#800080"/>
<rect x="600.30" y="111.60" width="5.00" height="5.00" fill="#800080"/>
<rect x="622.20" y="130.50" width="5.00" height="5.00" fill="#800080"/>
<rect x="656.00" y="156.10" width="5.00" height="5.00" fill="#800080"/>
<path d="M525.60,9.20 L538.30,21.00 L553.20,30.50 L567.80,42.80 L579.80,53.50 L597.50,78.30 L614.20,100.20 L630.90,127.60 L659.30,158.60" stroke="#8e0000" stroke-width="1.3" fill="none"/>
<path d="M525.60,3.20V15.20 M523.90,3.20H527.30 M523.90,15.20H527.30 M519.60,9.20H531.60 M519.60,7.50V10.90 M531.60,7.50V10.90 " stroke="#8e0000" stroke-width="1.00" fill="none"/>
<path d="M538.30,15.00V27.00 M536.60,15.00H540.00 M536.60,27.00H540.00 M532.30,21.00H544.30 M532.30,19.30V22.70 M544.30,19.30V22.70 " stroke="#8e0000" stroke-width="1.00" fill="none"/>
<path d="M553.20,24.50V36.50 M551.50,24.50H554.90 M551.50,36.50H554.90 M547.20,30.50H559.20 M547.20,28.80V32.20 M559.20,28.80V32.20 " stroke="#8e0000" stroke-width="1.00" fill="none"/>
<path d="M567.80,36.80V48.80 M566.10,36.80H569.50 M566.10,48.80H569.50 M561.80,42.80H573.80 M561.80,41.10V44.50 M573.80,41.10V44.50 " stroke="#8e0000" stroke-width="1.00" fill="none"/>
<path d="M579.80,47.50V59.50 M578.10,47.50H581.50 M578.10,59.50H581.50 M573.80,53.50H585.80 M573.80,51.80V55.20 M585.80,51.80V55.20 " stroke="#8e0000" stroke-width="1.00" fill="none"/>
<path d="M597.50,72.30V84.30 M595.80,72.30H599.20 M595.80,84.30H599.20 M591.50,78.30H603.50 M591.50,76.60V80.00 M603.50,76.60V80.00 " stroke="#8e0000" stroke-width="1.00" fill="none"/>
<path d="M614.20,94.20V106.20 M612.50,94.20H615.90 M612.50,106.20H615.90 M608.20,100.20H620.20 M608.20,98.50V101.90 M620.20,98.50V101.90 " stroke="#8e0000" stroke-width="1.00" fill="none"/>
<path d="M630.90,121.60V133.60 M629.20,121.60H632.60 M629.20,133.60H632.60 M624.90,127.60H636.90 M624.90,125.90V129.30 M636.90,125.90V129.30 " stroke="#8e0000" stroke-width="1.00" fill="none"/>
<path d="M659.30,152.60V164.60 M657.60,152.60H661.00 M657.60,164.60H661.00 M653.30,158.60H665.30 M653.30,156.90V160.30 M665.30,156.90V160.30 " stroke="#8e0000" stroke-width="1.00" fill="none"/>
<circle cx="525.60" cy="9.20" r="3.10" fill="#8e0000"/><circle cx="524.90" cy="8.30" r="0.93" fill="#fff" fill-opacity="0.75"/>
<circle cx="538.30" cy="21.00" r="3.10" fill="#8e0000"/><circle cx="537.60" cy="20.10" r="0.93" fill="#fff" fill-opacity="0.75"/>
<circle cx="553.20" cy="30.50" r="3.10" fill="#8e0000"/><circle cx="552.50" cy="29.60" r="0.93" fill="#fff" fill-opacity="0.75"/>
<circle cx="567.80" cy="42.80" r="3.10" fill="#8e0000"/><circle cx="567.10" cy="41.90" r="0.93" fill="#fff" fill-opacity="0.75"/>
<circle cx="579.80" cy="53.50" r="3.10" fill="#8e0000"/><circle cx="579.10" cy="52.60" r="0.93" fill="#fff" fill-opacity="0.75"/>
<circle cx="597.50" cy="78.30" r="3.10" fill="#8e0000"/><circle cx="596.80" cy="77.40" r="0.93" fill="#fff" fill-opacity="0.75"/>
<circle cx="614.20" cy="100.20" r="3.10" fill="#8e0000"/><circle cx="613.50" cy="99.30" r="0.93" fill="#fff" fill-opacity="0.75"/>
<circle cx="630.90" cy="127.60" r="3.10" fill="#8e0000"/><circle cx="630.20" cy="126.70" r="0.93" fill="#fff" fill-opacity="0.75"/>
<circle cx="659.30" cy="158.60" r="3.10" fill="#8e0000"/><circle cx="658.60" cy="157.70" r="0.93" fill="#fff" fill-opacity="0.75"/>
<path d="M512.00,-5.17 L514.09,-0.58 L516.18,3.86 L518.27,8.15 L520.35,12.30 L522.44,16.31 L524.53,20.20 L526.62,23.96 L528.71,27.60 L530.80,31.13 L532.89,34.55 L534.97,37.86 L537.06,41.08 L539.15,44.19 L541.24,47.22 L543.33,50.16 L545.42,53.02 L547.51,55.80 L549.59,58.51 L551.68,61.14 L553.77,63.71 L555.86,66.22 L557.95,68.66 L560.04,71.05 L562.13,73.39 L564.22,75.68 L566.30,77.92 L568.39,80.12 L570.48,82.28 L572.57,84.40 L574.66,86.48 L576.75,88.54 L578.84,90.56 L580.92,92.56 L583.01,94.53 L585.10,96.47 L587.19,98.40 L589.28,100.31 L591.37,102.20 L593.46,104.07 L595.54,105.93 L597.63,107.77 L599.72,109.61 L601.81,111.43 L603.90,113.25 L605.99,115.05 L608.08,116.85 L610.16,118.65 L612.25,120.44 L614.34,122.22 L616.43,124.00 L618.52,125.77 L620.61,127.54 L622.70,129.30 L624.78,131.06 L626.87,132.82 L628.96,134.57 L631.05,136.32 L633.14,138.06 L635.23,139.80 L637.32,141.53 L639.41,143.25 L641.49,144.97 L643.58,146.68 L645.67,148.37 L647.76,150.06 L649.85,151.73 L651.94,153.39 L654.03,155.03 L656.11,156.66 L658.20,158.27 L660.29,159.85 L662.38,161.42 L664.47,162.96 L666.56,164.47 L668.65,165.95 L670.73,167.40 L672.82,168.82 L674.91,170.20 L677.00,171.53" stroke="#000" stroke-width="1.45" fill="none"/>
</g>
<rect x="511.30" y="0.80" width="170.70" height="170.30" fill="none" stroke="#000" stroke-width="1.80"/>
<text x="645.60" y="28.40" font-size="20" text-anchor="start" font-weight="bold">(c)</text>
<text x="589.50" y="38.40" font-size="12" text-anchor="start" >13.9 GHz</text>
<text x="601.30" y="52.20" font-size="12" text-anchor="start" >-6 dBm</text>
<line x1="591.50" y1="43.00" x2="580.50" y2="52.50" stroke="#000" stroke-width="1.10"/>
<text x="519.00" y="110.50" font-size="12" text-anchor="start" >64.1 MHz</text>
<text x="519.00" y="125.70" font-size="12" text-anchor="start" >-6 dBm</text>
<line x1="575.50" y1="105.20" x2="585.00" y2="98.00" stroke="#000" stroke-width="1.10"/>
<text x="546.10" y="145.00" font-size="12" text-anchor="start" >unexcited</text>
<line x1="594.70" y1="129.40" x2="604.20" y2="122.00" stroke="#000" stroke-width="1.10"/>
<text x="649.30" y="128.50" font-size="12" text-anchor="start" >fit</text>
<line x1="648.70" y1="133.10" x2="637.60" y2="141.90" stroke="#000" stroke-width="1.10"/>
<text x="574.8" y="203.5" font-size="16.8"><tspan font-style="italic">j</tspan>*/ <tspan font-style="italic">j</tspan><tspan font-size="12.5" dy="5.5">0</tspan></text>
<text transform="translate(480.60,108.20) rotate(-90)" font-size="17.5" letter-spacing="0"><tspan font-style="italic">V</tspan>*/ <tspan font-style="italic">V</tspan><tspan font-size="13" dy="5">0</tspan></text>
<path d="M57.10,389.00V384.00 M57.10,227.40V232.40 M107.40,389.00V384.00 M107.40,227.40V232.40 M157.70,389.00V384.00 M157.70,227.40V232.40 M208.00,389.00V384.00 M208.00,227.40V232.40 M82.25,389.00V386.00 M82.25,227.40V230.40 M132.55,389.00V386.00 M132.55,227.40V230.40 M182.85,389.00V386.00 M182.85,227.40V230.40 M47.10,384.60H52.10 M218.10,384.60H213.10 M47.10,333.67H52.10 M218.10,333.67H213.10 M47.10,282.74H52.10 M218.10,282.74H213.10 M47.10,231.80H52.10 M218.10,231.80H213.10 M47.10,359.14H50.10 M218.10,359.14H215.10 M47.10,308.20H50.10 M218.10,308.20H215.10 M47.10,257.27H50.10 M218.10,257.27H215.10 " stroke="#000" stroke-width="1.53" fill="none"/>
<text x="57.10" y="405.50" text-anchor="middle" font-size="13">0</text>
<text x="107.40" y="405.50" text-anchor="middle" font-size="13">10</text>
<text x="157.70" y="405.50" text-anchor="middle" font-size="13">20</text>
<text x="208.00" y="405.50" text-anchor="middle" font-size="13">30</text>
<text x="40.60" y="388.89" text-anchor="end" font-size="13">-0.2</text>
<text x="40.60" y="337.96" text-anchor="end" font-size="13">0.0</text>
<text x="40.60" y="287.03" text-anchor="end" font-size="13">0.2</text>
<text x="40.60" y="236.09" text-anchor="end" font-size="13">0.4</text>
<path d="M62.13,341.06 L63.60,340.54 L65.00,340.15 L66.33,339.87 L67.60,339.68 L68.80,339.59 L69.94,339.59 L71.02,339.66 L72.06,339.80 L73.04,340.00 L73.97,340.25 L74.86,340.55 L75.71,340.88 L76.52,341.24 L77.30,341.62 L78.05,342.00 L78.76,342.39 L79.45,342.78 L80.12,343.15 L80.78,343.50 L81.41,343.81 L82.03,344.09 L82.65,344.34 L83.25,344.55 L83.84,344.73 L84.42,344.89 L85.00,345.02 L85.58,345.13 L86.15,345.22 L86.71,345.29 L87.28,345.36 L87.85,345.41 L88.41,345.46 L88.98,345.51 L89.56,345.55 L90.14,345.60 L90.72,345.65 L91.31,345.71 L91.91,345.79 L92.53,345.87 L93.15,345.98 L93.78,346.10 L94.43,346.25 L95.09,346.41 L95.75,346.58 L96.42,346.77 L97.10,346.97 L97.79,347.18 L98.47,347.39 L99.16,347.62 L99.85,347.84 L100.55,348.07 L101.24,348.30 L101.92,348.53 L102.61,348.75 L103.29,348.97 L103.96,349.18 L104.62,349.39 L105.28,349.58 L105.93,349.76 L106.56,349.93 L107.18,350.08 L107.80,350.21 L108.40,350.34 L108.99,350.44 L109.57,350.54 L110.15,350.62 L110.73,350.70 L111.30,350.76 L111.86,350.81 L112.43,350.86 L113.00,350.90 L113.56,350.93 L114.13,350.95 L114.71,350.97 L115.29,350.99 L115.87,351.00 L116.46,351.01 L117.06,351.02 L117.68,351.02 L118.30,351.03 L118.93,351.04 L119.58,351.04 L120.24,351.05 L120.92,351.05 L121.61,351.06 L122.32,351.06 L123.04,351.06 L123.78,351.05 L124.54,351.04 L125.32,351.03 L126.11,351.01 L126.93,350.99 L127.76,350.96 L128.62,350.92 L129.50,350.87 L130.40,350.82 L131.32,350.76 L132.26,350.69 L133.23,350.61 L134.23,350.52 L135.25,350.42 L136.29,350.31 L137.36,350.20 L138.46,350.08 L139.58,349.96 L140.73,349.85 L141.90,349.74 L143.11,349.63 L144.34,349.54 L145.60,349.46 L146.88,349.40 L148.20,349.35 L149.54,349.33 L150.92,349.32 L152.32,349.35 L153.76,349.40 L155.22,349.48 L156.71,349.60 L158.24,349.75 L159.80,349.95 L161.38,350.18 L163.01,350.45 L164.69,350.75 L166.42,351.08 L168.21,351.43 L170.08,351.80 L172.02,352.18 L174.05,352.57 L176.17,352.97 L178.40,353.36 L180.73,353.74 L183.19,354.11 L185.76,354.47 L188.48,354.80 L191.33,355.11 L194.34,355.38 L197.50,355.62 L200.82,355.82 L204.32,355.98 L208.00,356.08" stroke="#7f00ff" stroke-width="1.60" fill="none"/>
<path d="M62.13,336.06V346.06 M60.53,336.06H63.73 M60.53,346.06H63.73 " stroke="#7f00ff" stroke-width="0.85" fill="none"/>
<path d="M72.19,332.24V342.24 M70.59,332.24H73.79 M70.59,342.24H73.79 " stroke="#7f00ff" stroke-width="0.85" fill="none"/>
<path d="M82.25,341.40V351.40 M80.65,341.40H83.85 M80.65,351.40H83.85 " stroke="#7f00ff" stroke-width="0.85" fill="none"/>
<path d="M92.31,339.62V349.62 M90.71,339.62H93.91 M90.71,349.62H93.91 " stroke="#7f00ff" stroke-width="0.85" fill="none"/>
<path d="M107.40,345.99V355.99 M105.80,345.99H109.00 M105.80,355.99H109.00 " stroke="#7f00ff" stroke-width="0.85" fill="none"/>
<path d="M117.46,345.99V355.99 M115.86,345.99H119.06 M115.86,355.99H119.06 " stroke="#7f00ff" stroke-width="0.85" fill="none"/>
<path d="M132.55,346.24V356.24 M130.95,346.24H134.15 M130.95,356.24H134.15 " stroke="#7f00ff" stroke-width="0.85" fill="none"/>
<path d="M157.70,342.17V352.17 M156.10,342.17H159.30 M156.10,352.17H159.30 " stroke="#7f00ff" stroke-width="0.85" fill="none"/>
<path d="M182.85,350.57V360.57 M181.25,350.57H184.45 M181.25,360.57H184.45 " stroke="#7f00ff" stroke-width="0.85" fill="none"/>
<path d="M208.00,351.08V361.08 M206.40,351.08H209.60 M206.40,361.08H209.60 " stroke="#7f00ff" stroke-width="0.85" fill="none"/>
<rect x="59.63" y="338.56" width="5.00" height="5.00" fill="#7f00ff"/>
<rect x="69.69" y="334.74" width="5.00" height="5.00" fill="#7f00ff"/>
<rect x="79.75" y="343.90" width="5.00" height="5.00" fill="#7f00ff"/>
<rect x="89.81" y="342.12" width="5.00" height="5.00" fill="#7f00ff"/>
<rect x="104.90" y="348.49" width="5.00" height="5.00" fill="#7f00ff"/>
<rect x="114.96" y="348.49" width="5.00" height="5.00" fill="#7f00ff"/>
<rect x="130.05" y="348.74" width="5.00" height="5.00" fill="#7f00ff"/>
<rect x="155.20" y="344.67" width="5.00" height="5.00" fill="#7f00ff"/>
<rect x="180.35" y="353.07" width="5.00" height="5.00" fill="#7f00ff"/>
<rect x="205.50" y="353.58" width="5.00" height="5.00" fill="#7f00ff"/>
<path d="M62.13,330.87 L63.60,330.23 L65.00,329.69 L66.33,329.24 L67.60,328.88 L68.80,328.59 L69.94,328.37 L71.02,328.22 L72.06,328.13 L73.04,328.09 L73.97,328.09 L74.86,328.14 L75.71,328.22 L76.52,328.33 L77.30,328.45 L78.05,328.59 L78.76,328.74 L79.45,328.90 L80.12,329.04 L80.78,329.18 L81.41,329.30 L82.03,329.39 L82.65,329.47 L83.25,329.52 L83.84,329.56 L84.42,329.58 L85.00,329.59 L85.58,329.58 L86.15,329.56 L86.71,329.53 L87.28,329.49 L87.85,329.44 L88.41,329.40 L88.98,329.34 L89.56,329.29 L90.14,329.24 L90.72,329.19 L91.31,329.14 L91.91,329.10 L92.53,329.07 L93.15,329.04 L93.78,329.03 L94.43,329.03 L95.09,329.03 L95.75,329.05 L96.42,329.07 L97.10,329.10 L97.79,329.14 L98.47,329.18 L99.16,329.23 L99.85,329.28 L100.55,329.34 L101.24,329.40 L101.92,329.46 L102.61,329.53 L103.29,329.60 L103.96,329.67 L104.62,329.74 L105.28,329.80 L105.93,329.87 L106.56,329.93 L107.18,330.00 L107.80,330.06 L108.40,330.11 L108.99,330.17 L109.57,330.22 L110.15,330.27 L110.73,330.31 L111.30,330.36 L111.86,330.40 L112.43,330.43 L113.00,330.47 L113.56,330.50 L114.13,330.52 L114.71,330.55 L115.29,330.57 L115.87,330.58 L116.46,330.60 L117.06,330.61 L117.68,330.61 L118.30,330.61 L118.93,330.61 L119.58,330.61 L120.24,330.60 L120.92,330.59 L121.61,330.58 L122.32,330.57 L123.04,330.57 L123.78,330.56 L124.54,330.56 L125.32,330.56 L126.11,330.57 L126.93,330.58 L127.76,330.59 L128.62,330.62 L129.50,330.65 L130.40,330.69 L131.32,330.74 L132.26,330.80 L133.23,330.87 L134.23,330.95 L135.25,331.05 L136.29,331.16 L137.36,331.28 L138.46,331.41 L139.58,331.55 L140.73,331.70 L141.90,331.87 L143.11,332.04 L144.34,332.23 L145.60,332.42 L146.88,332.62 L148.20,332.83 L149.54,333.05 L150.92,333.28 L152.32,333.52 L153.76,333.76 L155.22,334.01 L156.71,334.26 L158.24,334.53 L159.80,334.79 L161.38,335.07 L163.01,335.35 L164.69,335.64 L166.42,335.94 L168.21,336.25 L170.08,336.58 L172.02,336.92 L174.05,337.28 L176.17,337.66 L178.40,338.06 L180.73,338.48 L183.19,338.93 L185.76,339.40 L188.48,339.91 L191.33,340.44 L194.34,341.00 L197.50,341.60 L200.82,342.23 L204.32,342.90 L208.00,343.60" stroke="#22ccff" stroke-width="1.60" fill="none"/>
<path d="M62.13,325.87V335.87 M60.53,325.87H63.73 M60.53,335.87H63.73 " stroke="#22ccff" stroke-width="0.85" fill="none"/>
<path d="M72.19,321.28V331.28 M70.59,321.28H73.79 M70.59,331.28H73.79 " stroke="#22ccff" stroke-width="0.85" fill="none"/>
<path d="M82.25,325.87V335.87 M80.65,325.87H83.85 M80.65,335.87H83.85 " stroke="#22ccff" stroke-width="0.85" fill="none"/>
<path d="M92.31,323.32V333.32 M90.71,323.32H93.91 M90.71,333.32H93.91 " stroke="#22ccff" stroke-width="0.85" fill="none"/>
<path d="M107.40,325.10V335.10 M105.80,325.10H109.00 M105.80,335.10H109.00 " stroke="#22ccff" stroke-width="0.85" fill="none"/>
<path d="M117.46,325.87V335.87 M115.86,325.87H119.06 M115.86,335.87H119.06 " stroke="#22ccff" stroke-width="0.85" fill="none"/>
<path d="M132.55,325.10V335.10 M130.95,325.10H134.15 M130.95,335.10H134.15 " stroke="#22ccff" stroke-width="0.85" fill="none"/>
<path d="M157.70,329.43V339.43 M156.10,329.43H159.30 M156.10,339.43H159.30 " stroke="#22ccff" stroke-width="0.85" fill="none"/>
<path d="M182.85,333.76V343.76 M181.25,333.76H184.45 M181.25,343.76H184.45 " stroke="#22ccff" stroke-width="0.85" fill="none"/>
<path d="M208.00,338.60V348.60 M206.40,338.60H209.60 M206.40,348.60H209.60 " stroke="#22ccff" stroke-width="0.85" fill="none"/>
<circle cx="62.13" cy="330.87" r="3.10" fill="#22ccff"/><circle cx="61.43" cy="329.97" r="0.93" fill="#fff" fill-opacity="0.75"/>
<circle cx="72.19" cy="326.28" r="3.10" fill="#22ccff"/><circle cx="71.49" cy="325.38" r="0.93" fill="#fff" fill-opacity="0.75"/>
<circle cx="82.25" cy="330.87" r="3.10" fill="#22ccff"/><circle cx="81.55" cy="329.97" r="0.93" fill="#fff" fill-opacity="0.75"/>
<circle cx="92.31" cy="328.32" r="3.10" fill="#22ccff"/><circle cx="91.61" cy="327.42" r="0.93" fill="#fff" fill-opacity="0.75"/>
<circle cx="107.40" cy="330.10" r="3.10" fill="#22ccff"/><circle cx="106.70" cy="329.20" r="0.93" fill="#fff" fill-opacity="0.75"/>
<circle cx="117.46" cy="330.87" r="3.10" fill="#22ccff"/><circle cx="116.76" cy="329.97" r="0.93" fill="#fff" fill-opacity="0.75"/>
<circle cx="132.55" cy="330.10" r="3.10" fill="#22ccff"/><circle cx="131.85" cy="329.20" r="0.93" fill="#fff" fill-opacity="0.75"/>
<circle cx="157.70" cy="334.43" r="3.10" fill="#22ccff"/><circle cx="157.00" cy="333.53" r="0.93" fill="#fff" fill-opacity="0.75"/>
<circle cx="182.85" cy="338.76" r="3.10" fill="#22ccff"/><circle cx="182.15" cy="337.86" r="0.93" fill="#fff" fill-opacity="0.75"/>
<circle cx="208.00" cy="343.60" r="3.10" fill="#22ccff"/><circle cx="207.30" cy="342.70" r="0.93" fill="#fff" fill-opacity="0.75"/>
<path d="M62.13,328.83 L63.60,327.62 L65.00,326.50 L66.33,325.46 L67.60,324.51 L68.80,323.63 L69.94,322.83 L71.02,322.10 L72.06,321.43 L73.04,320.82 L73.97,320.27 L74.86,319.77 L75.71,319.32 L76.52,318.92 L77.30,318.55 L78.05,318.21 L78.76,317.91 L79.45,317.63 L80.12,317.37 L80.78,317.13 L81.41,316.90 L82.03,316.69 L82.65,316.48 L83.25,316.28 L83.84,316.08 L84.42,315.90 L85.00,315.74 L85.58,315.58 L86.15,315.43 L86.71,315.30 L87.28,315.18 L87.85,315.07 L88.41,314.98 L88.98,314.90 L89.56,314.84 L90.14,314.80 L90.72,314.77 L91.31,314.76 L91.91,314.76 L92.53,314.78 L93.15,314.82 L93.78,314.88 L94.43,314.96 L95.09,315.06 L95.75,315.17 L96.42,315.29 L97.10,315.43 L97.79,315.57 L98.47,315.73 L99.16,315.90 L99.85,316.07 L100.55,316.25 L101.24,316.43 L101.92,316.62 L102.61,316.81 L103.29,317.00 L103.96,317.19 L104.62,317.38 L105.28,317.57 L105.93,317.75 L106.56,317.92 L107.18,318.09 L107.80,318.25 L108.40,318.41 L108.99,318.56 L109.57,318.70 L110.15,318.84 L110.73,318.98 L111.30,319.11 L111.86,319.24 L112.43,319.37 L113.00,319.49 L113.56,319.61 L114.13,319.73 L114.71,319.85 L115.29,319.96 L115.87,320.08 L116.46,320.20 L117.06,320.32 L117.68,320.43 L118.30,320.55 L118.93,320.68 L119.58,320.80 L120.24,320.93 L120.92,321.05 L121.61,321.18 L122.32,321.31 L123.04,321.45 L123.78,321.58 L124.54,321.72 L125.32,321.86 L126.11,322.00 L126.93,322.14 L127.76,322.29 L128.62,322.44 L129.50,322.58 L130.40,322.73 L131.32,322.89 L132.26,323.04 L133.23,323.20 L134.23,323.36 L135.25,323.52 L136.29,323.68 L137.36,323.85 L138.46,324.02 L139.58,324.20 L140.73,324.38 L141.90,324.58 L143.11,324.78 L144.34,324.99 L145.60,325.22 L146.88,325.45 L148.20,325.70 L149.54,325.97 L150.92,326.24 L152.32,326.54 L153.76,326.85 L155.22,327.18 L156.71,327.54 L158.24,327.91 L159.80,328.30 L161.38,328.72 L163.01,329.15 L164.69,329.61 L166.42,330.08 L168.21,330.57 L170.08,331.08 L172.02,331.59 L174.05,332.12 L176.17,332.66 L178.40,333.21 L180.73,333.76 L183.19,334.32 L185.76,334.88 L188.48,335.44 L191.33,336.00 L194.34,336.56 L197.50,337.12 L200.82,337.68 L204.32,338.22 L208.00,338.76" stroke="#99ff00" stroke-width="1.60" fill="none"/>
<path d="M62.13,323.83V333.83 M60.53,323.83H63.73 M60.53,333.83H63.73 " stroke="#99ff00" stroke-width="0.85" fill="none"/>
<path d="M72.19,315.43V325.43 M70.59,315.43H73.79 M70.59,325.43H73.79 " stroke="#99ff00" stroke-width="0.85" fill="none"/>
<path d="M82.25,311.35V321.35 M80.65,311.35H83.85 M80.65,321.35H83.85 " stroke="#99ff00" stroke-width="0.85" fill="none"/>
<path d="M92.31,308.55V318.55 M90.71,308.55H93.91 M90.71,318.55H93.91 " stroke="#99ff00" stroke-width="0.85" fill="none"/>
<path d="M107.40,313.39V323.39 M105.80,313.39H109.00 M105.80,323.39H109.00 " stroke="#99ff00" stroke-width="0.85" fill="none"/>
<path d="M117.46,315.43V325.43 M115.86,315.43H119.06 M115.86,325.43H119.06 " stroke="#99ff00" stroke-width="0.85" fill="none"/>
<path d="M132.55,318.23V328.23 M130.95,318.23H134.15 M130.95,328.23H134.15 " stroke="#99ff00" stroke-width="0.85" fill="none"/>
<path d="M157.70,321.79V331.79 M156.10,321.79H159.30 M156.10,331.79H159.30 " stroke="#99ff00" stroke-width="0.85" fill="none"/>
<path d="M182.85,330.20V340.20 M181.25,330.20H184.45 M181.25,340.20H184.45 " stroke="#99ff00" stroke-width="0.85" fill="none"/>
<path d="M208.00,333.76V343.76 M206.40,333.76H209.60 M206.40,343.76H209.60 " stroke="#99ff00" stroke-width="0.85" fill="none"/>
<circle cx="62.13" cy="328.83" r="3.10" fill="#99ff00"/><circle cx="61.43" cy="327.93" r="0.93" fill="#fff" fill-opacity="0.75"/>
<circle cx="72.19" cy="320.43" r="3.10" fill="#99ff00"/><circle cx="71.49" cy="319.53" r="0.93" fill="#fff" fill-opacity="0.75"/>
<circle cx="82.25" cy="316.35" r="3.10" fill="#99ff00"/><circle cx="81.55" cy="315.45" r="0.93" fill="#fff" fill-opacity="0.75"/>
<circle cx="92.31" cy="313.55" r="3.10" fill="#99ff00"/><circle cx="91.61" cy="312.65" r="0.93" fill="#fff" fill-opacity="0.75"/>
<circle cx="107.40" cy="318.39" r="3.10" fill="#99ff00"/><circle cx="106.70" cy="317.49" r="0.93" fill="#fff" fill-opacity="0.75"/>
<circle cx="117.46" cy="320.43" r="3.10" fill="#99ff00"/><circle cx="116.76" cy="319.53" r="0.93" fill="#fff" fill-opacity="0.75"/>
<circle cx="132.55" cy="323.23" r="3.10" fill="#99ff00"/><circle cx="131.85" cy="322.33" r="0.93" fill="#fff" fill-opacity="0.75"/>
<circle cx="157.70" cy="326.79" r="3.10" fill="#99ff00"/><circle cx="157.00" cy="325.89" r="0.93" fill="#fff" fill-opacity="0.75"/>
<circle cx="182.85" cy="335.20" r="3.10" fill="#99ff00"/><circle cx="182.15" cy="334.30" r="0.93" fill="#fff" fill-opacity="0.75"/>
<circle cx="208.00" cy="338.76" r="3.10" fill="#99ff00"/><circle cx="207.30" cy="337.86" r="0.93" fill="#fff" fill-opacity="0.75"/>
<path d="M62.13,323.23 L63.60,321.76 L65.00,320.39 L66.33,319.14 L67.60,317.98 L68.80,316.91 L69.94,315.93 L71.02,315.03 L72.06,314.21 L73.04,313.46 L73.97,312.78 L74.86,312.15 L75.71,311.59 L76.52,311.07 L77.30,310.59 L78.05,310.16 L78.76,309.75 L79.45,309.38 L80.12,309.03 L80.78,308.70 L81.41,308.37 L82.03,308.06 L82.65,307.75 L83.25,307.44 L83.84,307.14 L84.42,306.85 L85.00,306.56 L85.58,306.27 L86.15,305.98 L86.71,305.69 L87.28,305.41 L87.85,305.12 L88.41,304.84 L88.98,304.55 L89.56,304.26 L90.14,303.97 L90.72,303.68 L91.31,303.39 L91.91,303.09 L92.53,302.78 L93.15,302.47 L93.78,302.16 L94.43,301.84 L95.09,301.52 L95.75,301.19 L96.42,300.87 L97.10,300.54 L97.79,300.22 L98.47,299.90 L99.16,299.58 L99.85,299.27 L100.55,298.97 L101.24,298.67 L101.92,298.39 L102.61,298.11 L103.29,297.85 L103.96,297.60 L104.62,297.36 L105.28,297.14 L105.93,296.93 L106.56,296.74 L107.18,296.57 L107.80,296.42 L108.40,296.29 L108.99,296.18 L109.57,296.09 L110.15,296.02 L110.73,295.96 L111.30,295.93 L111.86,295.91 L112.43,295.92 L113.00,295.94 L113.56,295.98 L114.13,296.04 L114.71,296.12 L115.29,296.22 L115.87,296.34 L116.46,296.47 L117.06,296.63 L117.68,296.80 L118.30,297.00 L118.93,297.21 L119.58,297.44 L120.24,297.69 L120.92,297.96 L121.61,298.24 L122.32,298.54 L123.04,298.85 L123.78,299.17 L124.54,299.51 L125.32,299.86 L126.11,300.22 L126.93,300.60 L127.76,300.98 L128.62,301.37 L129.50,301.77 L130.40,302.18 L131.32,302.60 L132.26,303.02 L133.23,303.44 L134.23,303.87 L135.25,304.31 L136.29,304.75 L137.36,305.19 L138.46,305.63 L139.58,306.08 L140.73,306.53 L141.90,306.99 L143.11,307.44 L144.34,307.90 L145.60,308.36 L146.88,308.83 L148.20,309.29 L149.54,309.76 L150.92,310.23 L152.32,310.70 L153.76,311.17 L155.22,311.64 L156.71,312.12 L158.24,312.59 L159.80,313.06 L161.38,313.54 L163.01,314.02 L164.69,314.52 L166.42,315.05 L168.21,315.60 L170.08,316.19 L172.02,316.83 L174.05,317.53 L176.17,318.28 L178.40,319.11 L180.73,320.01 L183.19,321.00 L185.76,322.08 L188.48,323.27 L191.33,324.56 L194.34,325.96 L197.50,327.49 L200.82,329.16 L204.32,330.96 L208.00,332.91" stroke="#ff8c00" stroke-width="1.60" fill="none"/>
<path d="M62.13,318.23V328.23 M60.53,318.23H63.73 M60.53,328.23H63.73 " stroke="#ff8c00" stroke-width="0.85" fill="none"/>
<path d="M72.19,308.04V318.04 M70.59,308.04H73.79 M70.59,318.04H73.79 " stroke="#ff8c00" stroke-width="0.85" fill="none"/>
<path d="M82.25,302.95V312.95 M80.65,302.95H83.85 M80.65,312.95H83.85 " stroke="#ff8c00" stroke-width="0.85" fill="none"/>
<path d="M92.31,297.85V307.85 M90.71,297.85H93.91 M90.71,307.85H93.91 " stroke="#ff8c00" stroke-width="0.85" fill="none"/>
<path d="M107.40,290.47V300.47 M105.80,290.47H109.00 M105.80,300.47H109.00 " stroke="#ff8c00" stroke-width="0.85" fill="none"/>
<path d="M117.46,290.72V300.72 M115.86,290.72H119.06 M115.86,300.72H119.06 " stroke="#ff8c00" stroke-width="0.85" fill="none"/>
<path d="M132.55,298.62V308.62 M130.95,298.62H134.15 M130.95,308.62H134.15 " stroke="#ff8c00" stroke-width="0.85" fill="none"/>
<path d="M157.70,308.04V318.04 M156.10,308.04H159.30 M156.10,318.04H159.30 " stroke="#ff8c00" stroke-width="0.85" fill="none"/>
<path d="M182.85,314.41V324.41 M181.25,314.41H184.45 M181.25,324.41H184.45 " stroke="#ff8c00" stroke-width="0.85" fill="none"/>
<path d="M208.00,327.91V337.91 M206.40,327.91H209.60 M206.40,337.91H209.60 " stroke="#ff8c00" stroke-width="0.85" fill="none"/>
<circle cx="62.13" cy="323.23" r="3.10" fill="#ff8c00"/><circle cx="61.43" cy="322.33" r="0.93" fill="#fff" fill-opacity="0.75"/>
<circle cx="72.19" cy="313.04" r="3.10" fill="#ff8c00"/><circle cx="71.49" cy="312.14" r="0.93" fill="#fff" fill-opacity="0.75"/>
<circle cx="82.25" cy="307.95" r="3.10" fill="#ff8c00"/><circle cx="81.55" cy="307.05" r="0.93" fill="#fff" fill-opacity="0.75"/>
<circle cx="92.31" cy="302.85" r="3.10" fill="#ff8c00"/><circle cx="91.61" cy="301.95" r="0.93" fill="#fff" fill-opacity="0.75"/>
<circle cx="107.40" cy="295.47" r="3.10" fill="#ff8c00"/><circle cx="106.70" cy="294.57" r="0.93" fill="#fff" fill-opacity="0.75"/>
<circle cx="117.46" cy="295.72" r="3.10" fill="#ff8c00"/><circle cx="116.76" cy="294.82" r="0.93" fill="#fff" fill-opacity="0.75"/>
<circle cx="132.55" cy="303.62" r="3.10" fill="#ff8c00"/><circle cx="131.85" cy="302.72" r="0.93" fill="#fff" fill-opacity="0.75"/>
<circle cx="157.70" cy="313.04" r="3.10" fill="#ff8c00"/><circle cx="157.00" cy="312.14" r="0.93" fill="#fff" fill-opacity="0.75"/>
<circle cx="182.85" cy="319.41" r="3.10" fill="#ff8c00"/><circle cx="182.15" cy="318.51" r="0.93" fill="#fff" fill-opacity="0.75"/>
<circle cx="208.00" cy="332.91" r="3.10" fill="#ff8c00"/><circle cx="207.30" cy="332.01" r="0.93" fill="#fff" fill-opacity="0.75"/>
<path d="M62.13,308.46 L63.60,306.22 L65.00,304.10 L66.33,302.08 L67.60,300.17 L68.80,298.35 L69.94,296.63 L71.02,295.01 L72.06,293.47 L73.04,292.01 L73.97,290.64 L74.86,289.35 L75.71,288.12 L76.52,286.97 L77.30,285.88 L78.05,284.86 L78.76,283.89 L79.45,282.98 L80.12,282.12 L80.78,281.30 L81.41,280.53 L82.03,279.80 L82.65,279.11 L83.25,278.45 L83.84,277.84 L84.42,277.26 L85.00,276.72 L85.58,276.23 L86.15,275.77 L86.71,275.34 L87.28,274.96 L87.85,274.61 L88.41,274.30 L88.98,274.03 L89.56,273.79 L90.14,273.59 L90.72,273.43 L91.31,273.30 L91.91,273.21 L92.53,273.16 L93.15,273.14 L93.78,273.16 L94.43,273.21 L95.09,273.30 L95.75,273.41 L96.42,273.56 L97.10,273.74 L97.79,273.94 L98.47,274.17 L99.16,274.42 L99.85,274.70 L100.55,275.00 L101.24,275.33 L101.92,275.67 L102.61,276.03 L103.29,276.40 L103.96,276.79 L104.62,277.20 L105.28,277.62 L105.93,278.05 L106.56,278.49 L107.18,278.94 L107.80,279.40 L108.40,279.86 L108.99,280.33 L109.57,280.81 L110.15,281.28 L110.73,281.76 L111.30,282.24 L111.86,282.72 L112.43,283.20 L113.00,283.67 L113.56,284.14 L114.13,284.61 L114.71,285.07 L115.29,285.52 L115.87,285.96 L116.46,286.39 L117.06,286.81 L117.68,287.22 L118.30,287.62 L118.93,288.00 L119.58,288.37 L120.24,288.72 L120.92,289.07 L121.61,289.40 L122.32,289.73 L123.04,290.05 L123.78,290.37 L124.54,290.68 L125.32,290.99 L126.11,291.29 L126.93,291.60 L127.76,291.91 L128.62,292.22 L129.50,292.53 L130.40,292.85 L131.32,293.17 L132.26,293.50 L133.23,293.85 L134.23,294.20 L135.25,294.56 L136.29,294.93 L137.36,295.32 L138.46,295.73 L139.58,296.15 L140.73,296.60 L141.90,297.06 L143.11,297.55 L144.34,298.06 L145.60,298.59 L146.88,299.15 L148.20,299.74 L149.54,300.36 L150.92,301.02 L152.32,301.70 L153.76,302.42 L155.22,303.18 L156.71,303.97 L158.24,304.80 L159.80,305.68 L161.38,306.59 L163.01,307.55 L164.69,308.56 L166.42,309.61 L168.21,310.72 L170.08,311.87 L172.02,313.08 L174.05,314.34 L176.17,315.66 L178.40,317.04 L180.73,318.48 L183.19,319.98 L185.76,321.54 L188.48,323.17 L191.33,324.87 L194.34,326.64 L197.50,328.48 L200.82,330.39 L204.32,332.37 L208.00,334.43" stroke="#ff0000" stroke-width="1.60" fill="none"/>
<path d="M62.13,303.46V313.46 M60.53,303.46H63.73 M60.53,313.46H63.73 " stroke="#ff0000" stroke-width="0.85" fill="none"/>
<path d="M72.19,288.18V298.18 M70.59,288.18H73.79 M70.59,298.18H73.79 " stroke="#ff0000" stroke-width="0.85" fill="none"/>
<path d="M82.25,272.90V282.90 M80.65,272.90H83.85 M80.65,282.90H83.85 " stroke="#ff0000" stroke-width="0.85" fill="none"/>
<path d="M92.31,265.77V275.77 M90.71,265.77H93.91 M90.71,275.77H93.91 " stroke="#ff0000" stroke-width="0.85" fill="none"/>
<path d="M107.40,272.90V282.90 M105.80,272.90H109.00 M105.80,282.90H109.00 " stroke="#ff0000" stroke-width="0.85" fill="none"/>
<path d="M117.46,283.59V293.59 M115.86,283.59H119.06 M115.86,293.59H119.06 " stroke="#ff0000" stroke-width="0.85" fill="none"/>
<path d="M132.55,288.43V298.43 M130.95,288.43H134.15 M130.95,298.43H134.15 " stroke="#ff0000" stroke-width="0.85" fill="none"/>
<path d="M157.70,297.85V307.85 M156.10,297.85H159.30 M156.10,307.85H159.30 " stroke="#ff0000" stroke-width="0.85" fill="none"/>
<path d="M182.85,315.43V325.43 M181.25,315.43H184.45 M181.25,325.43H184.45 " stroke="#ff0000" stroke-width="0.85" fill="none"/>
<path d="M208.00,329.43V339.43 M206.40,329.43H209.60 M206.40,339.43H209.60 " stroke="#ff0000" stroke-width="0.85" fill="none"/>
<circle cx="62.13" cy="308.46" r="3.10" fill="#ff0000"/><circle cx="61.43" cy="307.56" r="0.93" fill="#fff" fill-opacity="0.75"/>
<circle cx="72.19" cy="293.18" r="3.10" fill="#ff0000"/><circle cx="71.49" cy="292.28" r="0.93" fill="#fff" fill-opacity="0.75"/>
<circle cx="82.25" cy="277.90" r="3.10" fill="#ff0000"/><circle cx="81.55" cy="277.00" r="0.93" fill="#fff" fill-opacity="0.75"/>
<circle cx="92.31" cy="270.77" r="3.10" fill="#ff0000"/><circle cx="91.61" cy="269.87" r="0.93" fill="#fff" fill-opacity="0.75"/>
<circle cx="107.40" cy="277.90" r="3.10" fill="#ff0000"/><circle cx="106.70" cy="277.00" r="0.93" fill="#fff" fill-opacity="0.75"/>
<circle cx="117.46" cy="288.59" r="3.10" fill="#ff0000"/><circle cx="116.76" cy="287.69" r="0.93" fill="#fff" fill-opacity="0.75"/>
<circle cx="132.55" cy="293.43" r="3.10" fill="#ff0000"/><circle cx="131.85" cy="292.53" r="0.93" fill="#fff" fill-opacity="0.75"/>
<circle cx="157.70" cy="302.85" r="3.10" fill="#ff0000"/><circle cx="157.00" cy="301.95" r="0.93" fill="#fff" fill-opacity="0.75"/>
<circle cx="182.85" cy="320.43" r="3.10" fill="#ff0000"/><circle cx="182.15" cy="319.53" r="0.93" fill="#fff" fill-opacity="0.75"/>
<circle cx="208.00" cy="334.43" r="3.10" fill="#ff0000"/><circle cx="207.30" cy="333.53" r="0.93" fill="#fff" fill-opacity="0.75"/>
<path d="M62.13,302.85 L63.60,296.48 L65.00,290.62 L66.33,285.27 L67.60,280.39 L68.80,275.95 L69.94,271.94 L71.02,268.32 L72.06,265.08 L73.04,262.19 L73.97,259.62 L74.86,257.34 L75.71,255.34 L76.52,253.59 L77.30,252.05 L78.05,250.72 L78.76,249.56 L79.45,248.54 L80.12,247.65 L80.78,246.85 L81.41,246.13 L82.03,245.45 L82.65,244.82 L83.25,244.24 L83.84,243.70 L84.42,243.20 L85.00,242.74 L85.58,242.32 L86.15,241.94 L86.71,241.60 L87.28,241.29 L87.85,241.02 L88.41,240.78 L88.98,240.57 L89.56,240.39 L90.14,240.24 L90.72,240.13 L91.31,240.03 L91.91,239.97 L92.53,239.93 L93.15,239.91 L93.78,239.91 L94.43,239.94 L95.09,239.99 L95.75,240.06 L96.42,240.16 L97.10,240.27 L97.79,240.41 L98.47,240.58 L99.16,240.76 L99.85,240.97 L100.55,241.20 L101.24,241.46 L101.92,241.73 L102.61,242.03 L103.29,242.36 L103.96,242.70 L104.62,243.07 L105.28,243.47 L105.93,243.88 L106.56,244.32 L107.18,244.79 L107.80,245.27 L108.40,245.78 L108.99,246.31 L109.57,246.86 L110.15,247.42 L110.73,248.01 L111.30,248.61 L111.86,249.23 L112.43,249.86 L113.00,250.50 L113.56,251.16 L114.13,251.83 L114.71,252.51 L115.29,253.20 L115.87,253.90 L116.46,254.60 L117.06,255.32 L117.68,256.04 L118.30,256.76 L118.93,257.49 L119.58,258.22 L120.24,258.96 L120.92,259.71 L121.61,260.46 L122.32,261.22 L123.04,262.00 L123.78,262.78 L124.54,263.58 L125.32,264.39 L126.11,265.22 L126.93,266.07 L127.76,266.93 L128.62,267.80 L129.50,268.70 L130.40,269.62 L131.32,270.56 L132.26,271.53 L133.23,272.51 L134.23,273.53 L135.25,274.56 L136.29,275.63 L137.36,276.71 L138.46,277.81 L139.58,278.94 L140.73,280.08 L141.90,281.23 L143.11,282.40 L144.34,283.58 L145.60,284.77 L146.88,285.96 L148.20,287.16 L149.54,288.36 L150.92,289.57 L152.32,290.77 L153.76,291.97 L155.22,293.17 L156.71,294.36 L158.24,295.55 L159.80,296.72 L161.38,297.89 L163.01,299.05 L164.69,300.21 L166.42,301.39 L168.21,302.59 L170.08,303.82 L172.02,305.09 L174.05,306.40 L176.17,307.77 L178.40,309.20 L180.73,310.71 L183.19,312.29 L185.76,313.96 L188.48,315.73 L191.33,317.60 L194.34,319.59 L197.50,321.70 L200.82,323.93 L204.32,326.31 L208.00,328.83" stroke="#8e0000" stroke-width="1.60" fill="none"/>
<path d="M62.13,297.85V307.85 M60.53,297.85H63.73 M60.53,307.85H63.73 " stroke="#8e0000" stroke-width="0.85" fill="none"/>
<path d="M72.19,253.54V263.54 M70.59,253.54H73.79 M70.59,263.54H73.79 " stroke="#8e0000" stroke-width="0.85" fill="none"/>
<path d="M82.25,238.01V248.01 M80.65,238.01H83.85 M80.65,248.01H83.85 " stroke="#8e0000" stroke-width="0.85" fill="none"/>
<path d="M92.31,233.42V243.42 M90.71,233.42H93.91 M90.71,243.42H93.91 " stroke="#8e0000" stroke-width="0.85" fill="none"/>
<path d="M107.40,237.75V247.75 M105.80,237.75H109.00 M105.80,247.75H109.00 " stroke="#8e0000" stroke-width="0.85" fill="none"/>
<path d="M117.46,251.50V261.50 M115.86,251.50H119.06 M115.86,261.50H119.06 " stroke="#8e0000" stroke-width="0.85" fill="none"/>
<path d="M132.55,266.79V276.79 M130.95,266.79H134.15 M130.95,276.79H134.15 " stroke="#8e0000" stroke-width="0.85" fill="none"/>
<path d="M157.70,292.51V302.51 M156.10,292.51H159.30 M156.10,302.51H159.30 " stroke="#8e0000" stroke-width="0.85" fill="none"/>
<path d="M182.85,306.51V316.51 M181.25,306.51H184.45 M181.25,316.51H184.45 " stroke="#8e0000" stroke-width="0.85" fill="none"/>
<path d="M208.00,323.83V333.83 M206.40,323.83H209.60 M206.40,333.83H209.60 " stroke="#8e0000" stroke-width="0.85" fill="none"/>
<circle cx="62.13" cy="302.85" r="3.10" fill="#8e0000"/><circle cx="61.43" cy="301.95" r="0.93" fill="#fff" fill-opacity="0.75"/>
<circle cx="72.19" cy="258.54" r="3.10" fill="#8e0000"/><circle cx="71.49" cy="257.64" r="0.93" fill="#fff" fill-opacity="0.75"/>
<circle cx="82.25" cy="243.01" r="3.10" fill="#8e0000"/><circle cx="81.55" cy="242.11" r="0.93" fill="#fff" fill-opacity="0.75"/>
<circle cx="92.31" cy="238.42" r="3.10" fill="#8e0000"/><circle cx="91.61" cy="237.52" r="0.93" fill="#fff" fill-opacity="0.75"/>
<circle cx="107.40" cy="242.75" r="3.10" fill="#8e0000"/><circle cx="106.70" cy="241.85" r="0.93" fill="#fff" fill-opacity="0.75"/>
<circle cx="117.46" cy="256.50" r="3.10" fill="#8e0000"/><circle cx="116.76" cy="255.60" r="0.93" fill="#fff" fill-opacity="0.75"/>
<circle cx="132.55" cy="271.79" r="3.10" fill="#8e0000"/><circle cx="131.85" cy="270.89" r="0.93" fill="#fff" fill-opacity="0.75"/>
<circle cx="157.70" cy="297.51" r="3.10" fill="#8e0000"/><circle cx="157.00" cy="296.61" r="0.93" fill="#fff" fill-opacity="0.75"/>
<circle cx="182.85" cy="311.51" r="3.10" fill="#8e0000"/><circle cx="182.15" cy="310.61" r="0.93" fill="#fff" fill-opacity="0.75"/>
<circle cx="208.00" cy="328.83" r="3.10" fill="#8e0000"/><circle cx="207.30" cy="327.93" r="0.93" fill="#fff" fill-opacity="0.75"/>
<rect x="47.10" y="227.40" width="171.00" height="161.60" fill="none" stroke="#000" stroke-width="1.80"/>
<text x="185.30" y="254.00" font-size="20" text-anchor="start" font-weight="bold">(d)</text>

<text x="129.20" y="245.90" font-size="12" text-anchor="start" >13.9 GHz</text>
<text x="137.20" y="260.60" font-size="12" text-anchor="start" >-6 dBm</text>
<line x1="118.20" y1="334.40" x2="134.98" y2="267.47" stroke="#000" stroke-width="1.30"/>
<polygon points="136.80,260.20 137.91,269.76 131.31,268.10" fill="#000"/>
<text x="101.00" y="345.10" font-size="12" text-anchor="start" >-20 dBm</text>
<text x="108.00" y="369.00" font-size="12" text-anchor="start" >64.1 MHz</text>
<text x="108.00" y="383.60" font-size="12" text-anchor="start" >- 6 dBm</text>
<line x1="150.30" y1="357.30" x2="157.00" y2="349.60" stroke="#000" stroke-width="1.10"/>
<text x="132.60" y="424.10" font-size="16" text-anchor="middle" ><tspan font-style="italic">H</tspan> (mT)</text>
<text transform="translate(15.40,328.60) rotate(-90)" font-size="18" letter-spacing="0.7"><tspan font-style="italic">&#916;v</tspan>*/<tspan font-style="italic">v</tspan>*</text>
<path d="M287.20,389.40V384.40 M287.20,227.10V232.10 M337.33,389.40V384.40 M337.33,227.10V232.10 M387.46,389.40V384.40 M387.46,227.10V232.10 M437.59,389.40V384.40 M437.59,227.10V232.10 M312.26,389.40V386.40 M312.26,227.10V230.10 M362.39,389.40V386.40 M362.39,227.10V230.10 M412.52,389.40V386.40 M412.52,227.10V230.10 M277.20,377.90H282.20 M448.00,377.90H443.00 M277.20,322.15H282.20 M448.00,322.15H443.00 M277.20,266.40H282.20 M448.00,266.40H443.00 M277.20,350.02H280.20 M448.00,350.02H445.00 M277.20,294.27H280.20 M448.00,294.27H445.00 M277.20,238.52H280.20 M448.00,238.52H445.00 " stroke="#000" stroke-width="1.53" fill="none"/>
<text x="287.20" y="405.90" text-anchor="middle" font-size="13">0</text>
<text x="337.33" y="405.90" text-anchor="middle" font-size="13">10</text>
<text x="387.46" y="405.90" text-anchor="middle" font-size="13">20</text>
<text x="437.59" y="405.90" text-anchor="middle" font-size="13">30</text>
<text x="270.70" y="382.19" text-anchor="end" font-size="13">-0.1</text>
<text x="270.70" y="326.44" text-anchor="end" font-size="13">0.0</text>
<text x="270.70" y="270.69" text-anchor="end" font-size="13">0.1</text>
<path d="M292.21,343.73 L293.68,343.86 L295.07,344.04 L296.40,344.24 L297.66,344.48 L298.86,344.75 L300.00,345.05 L301.08,345.36 L302.11,345.70 L303.08,346.05 L304.01,346.42 L304.90,346.80 L305.75,347.19 L306.56,347.58 L307.33,347.98 L308.07,348.37 L308.79,348.76 L309.48,349.15 L310.15,349.52 L310.80,349.89 L311.43,350.24 L312.05,350.57 L312.66,350.89 L313.26,351.19 L313.85,351.47 L314.43,351.74 L315.01,351.99 L315.58,352.23 L316.15,352.46 L316.71,352.68 L317.28,352.88 L317.84,353.07 L318.41,353.26 L318.98,353.43 L319.55,353.59 L320.12,353.75 L320.71,353.90 L321.30,354.04 L321.90,354.17 L322.51,354.30 L323.13,354.43 L323.76,354.55 L324.40,354.67 L325.06,354.78 L325.72,354.89 L326.39,355.01 L327.07,355.12 L327.75,355.23 L328.43,355.34 L329.12,355.45 L329.81,355.57 L330.50,355.69 L331.19,355.81 L331.87,355.94 L332.55,356.07 L333.23,356.21 L333.90,356.36 L334.56,356.51 L335.22,356.68 L335.86,356.85 L336.49,357.03 L337.12,357.22 L337.72,357.42 L338.32,357.63 L338.91,357.85 L339.50,358.07 L340.07,358.29 L340.65,358.52 L341.21,358.75 L341.78,358.97 L342.34,359.20 L342.91,359.42 L343.47,359.64 L344.04,359.85 L344.61,360.05 L345.19,360.24 L345.77,360.43 L346.36,360.60 L346.96,360.76 L347.57,360.91 L348.19,361.04 L348.82,361.15 L349.47,361.24 L350.13,361.32 L350.80,361.39 L351.49,361.44 L352.20,361.47 L352.92,361.49 L353.66,361.50 L354.41,361.49 L355.19,361.47 L355.98,361.44 L356.79,361.40 L357.63,361.34 L358.48,361.28 L359.35,361.20 L360.25,361.12 L361.17,361.02 L362.11,360.92 L363.08,360.81 L364.07,360.69 L365.08,360.57 L366.12,360.43 L367.19,360.29 L368.28,360.13 L369.40,359.97 L370.54,359.79 L371.72,359.60 L372.92,359.40 L374.14,359.18 L375.40,358.94 L376.68,358.69 L377.99,358.42 L379.33,358.13 L380.70,357.82 L382.10,357.49 L383.53,357.13 L384.99,356.76 L386.48,356.36 L388.00,355.93 L389.55,355.48 L391.13,355.01 L392.75,354.51 L394.42,354.00 L396.15,353.47 L397.94,352.94 L399.79,352.41 L401.73,351.88 L403.75,351.36 L405.87,350.86 L408.09,350.38 L410.41,349.92 L412.86,349.49 L415.43,349.10 L418.13,348.75 L420.98,348.44 L423.97,348.19 L427.12,347.99 L430.44,347.86 L433.92,347.79 L437.59,347.79" stroke="#7f00ff" stroke-width="1.60" fill="none"/>
<path d="M292.21,338.73V348.73 M290.61,338.73H293.81 M290.61,348.73H293.81 " stroke="#7f00ff" stroke-width="0.85" fill="none"/>
<path d="M302.24,339.51V349.51 M300.64,339.51H303.84 M300.64,349.51H303.84 " stroke="#7f00ff" stroke-width="0.85" fill="none"/>
<path d="M312.26,346.42V356.42 M310.66,346.42H313.87 M310.66,356.42H313.87 " stroke="#7f00ff" stroke-width="0.85" fill="none"/>
<path d="M322.29,349.71V359.71 M320.69,349.71H323.89 M320.69,359.71H323.89 " stroke="#7f00ff" stroke-width="0.85" fill="none"/>
<path d="M337.33,351.32V361.32 M335.73,351.32H338.93 M335.73,361.32H338.93 " stroke="#7f00ff" stroke-width="0.85" fill="none"/>
<path d="M347.36,357.18V367.18 M345.76,357.18H348.96 M345.76,367.18H348.96 " stroke="#7f00ff" stroke-width="0.85" fill="none"/>
<path d="M362.39,356.17V366.17 M360.79,356.17H364.00 M360.79,366.17H364.00 " stroke="#7f00ff" stroke-width="0.85" fill="none"/>
<path d="M387.46,352.27V362.27 M385.86,352.27H389.06 M385.86,362.27H389.06 " stroke="#7f00ff" stroke-width="0.85" fill="none"/>
<path d="M412.52,342.52V352.52 M410.92,342.52H414.12 M410.92,352.52H414.12 " stroke="#7f00ff" stroke-width="0.85" fill="none"/>
<path d="M437.59,342.79V352.79 M435.99,342.79H439.19 M435.99,352.79H439.19 " stroke="#7f00ff" stroke-width="0.85" fill="none"/>
<rect x="289.71" y="341.23" width="5.00" height="5.00" fill="#7f00ff"/>
<rect x="299.74" y="342.01" width="5.00" height="5.00" fill="#7f00ff"/>
<rect x="309.76" y="348.92" width="5.00" height="5.00" fill="#7f00ff"/>
<rect x="319.79" y="352.21" width="5.00" height="5.00" fill="#7f00ff"/>
<rect x="334.83" y="353.82" width="5.00" height="5.00" fill="#7f00ff"/>
<rect x="344.86" y="359.68" width="5.00" height="5.00" fill="#7f00ff"/>
<rect x="359.89" y="358.67" width="5.00" height="5.00" fill="#7f00ff"/>
<rect x="384.96" y="354.77" width="5.00" height="5.00" fill="#7f00ff"/>
<rect x="410.02" y="345.02" width="5.00" height="5.00" fill="#7f00ff"/>
<rect x="435.09" y="345.29" width="5.00" height="5.00" fill="#7f00ff"/>
<path d="M292.21,333.08 L293.68,331.86 L295.07,330.75 L296.40,329.75 L297.66,328.84 L298.86,328.02 L300.00,327.30 L301.08,326.66 L302.11,326.11 L303.08,325.63 L304.01,325.23 L304.90,324.89 L305.75,324.63 L306.56,324.42 L307.33,324.27 L308.07,324.17 L308.79,324.12 L309.48,324.11 L310.15,324.14 L310.80,324.21 L311.43,324.31 L312.05,324.44 L312.66,324.60 L313.26,324.77 L313.85,324.97 L314.43,325.18 L315.01,325.41 L315.58,325.65 L316.15,325.90 L316.71,326.15 L317.28,326.41 L317.84,326.67 L318.41,326.93 L318.98,327.18 L319.55,327.43 L320.12,327.67 L320.71,327.90 L321.30,328.11 L321.90,328.31 L322.51,328.49 L323.13,328.64 L323.76,328.78 L324.40,328.88 L325.06,328.97 L325.72,329.03 L326.39,329.08 L327.07,329.10 L327.75,329.11 L328.43,329.10 L329.12,329.07 L329.81,329.03 L330.50,328.98 L331.19,328.91 L331.87,328.84 L332.55,328.75 L333.23,328.65 L333.90,328.55 L334.56,328.44 L335.22,328.32 L335.86,328.20 L336.49,328.08 L337.12,327.95 L337.72,327.82 L338.32,327.70 L338.91,327.57 L339.50,327.44 L340.07,327.31 L340.65,327.19 L341.21,327.07 L341.78,326.96 L342.34,326.85 L342.91,326.75 L343.47,326.65 L344.04,326.56 L344.61,326.48 L345.19,326.41 L345.77,326.35 L346.36,326.30 L346.96,326.26 L347.57,326.23 L348.19,326.22 L348.82,326.22 L349.47,326.24 L350.13,326.27 L350.80,326.31 L351.49,326.36 L352.20,326.43 L352.92,326.51 L353.66,326.59 L354.41,326.69 L355.19,326.81 L355.98,326.93 L356.79,327.06 L357.63,327.20 L358.48,327.34 L359.35,327.50 L360.25,327.66 L361.17,327.84 L362.11,328.02 L363.08,328.20 L364.07,328.39 L365.08,328.59 L366.12,328.79 L367.19,329.00 L368.28,329.20 L369.40,329.40 L370.54,329.60 L371.72,329.79 L372.92,329.98 L374.14,330.15 L375.40,330.32 L376.68,330.47 L377.99,330.60 L379.33,330.72 L380.70,330.82 L382.10,330.90 L383.53,330.95 L384.99,330.98 L386.48,330.99 L388.00,330.96 L389.55,330.91 L391.13,330.82 L392.75,330.70 L394.42,330.54 L396.15,330.36 L397.94,330.13 L399.79,329.88 L401.73,329.59 L403.75,329.26 L405.87,328.90 L408.09,328.50 L410.41,328.07 L412.86,327.60 L415.43,327.09 L418.13,326.55 L420.98,325.97 L423.97,325.35 L427.12,324.69 L430.44,323.99 L433.92,323.26 L437.59,322.48" stroke="#22ccff" stroke-width="1.60" fill="none"/>
<path d="M292.21,328.08V338.08 M290.61,328.08H293.81 M290.61,338.08H293.81 " stroke="#22ccff" stroke-width="0.85" fill="none"/>
<path d="M302.24,319.60V329.60 M300.64,319.60H303.84 M300.64,329.60H303.84 " stroke="#22ccff" stroke-width="0.85" fill="none"/>
<path d="M312.26,317.48V327.48 M310.66,317.48H313.87 M310.66,327.48H313.87 " stroke="#22ccff" stroke-width="0.85" fill="none"/>
<path d="M322.29,325.29V335.29 M320.69,325.29H323.89 M320.69,335.29H323.89 " stroke="#22ccff" stroke-width="0.85" fill="none"/>
<path d="M337.33,323.23V333.23 M335.73,323.23H338.93 M335.73,333.23H338.93 " stroke="#22ccff" stroke-width="0.85" fill="none"/>
<path d="M347.36,320.27V330.27 M345.76,320.27H348.96 M345.76,330.27H348.96 " stroke="#22ccff" stroke-width="0.85" fill="none"/>
<path d="M362.39,323.00V333.00 M360.79,323.00H364.00 M360.79,333.00H364.00 " stroke="#22ccff" stroke-width="0.85" fill="none"/>
<path d="M387.46,328.08V338.08 M385.86,328.08H389.06 M385.86,338.08H389.06 " stroke="#22ccff" stroke-width="0.85" fill="none"/>
<path d="M412.52,322.78V332.78 M410.92,322.78H414.12 M410.92,332.78H414.12 " stroke="#22ccff" stroke-width="0.85" fill="none"/>
<path d="M437.59,317.48V327.48 M435.99,317.48H439.19 M435.99,327.48H439.19 " stroke="#22ccff" stroke-width="0.85" fill="none"/>
<circle cx="292.21" cy="333.08" r="3.10" fill="#22ccff"/><circle cx="291.51" cy="332.18" r="0.93" fill="#fff" fill-opacity="0.75"/>
<circle cx="302.24" cy="324.60" r="3.10" fill="#22ccff"/><circle cx="301.54" cy="323.70" r="0.93" fill="#fff" fill-opacity="0.75"/>
<circle cx="312.26" cy="322.48" r="3.10" fill="#22ccff"/><circle cx="311.56" cy="321.58" r="0.93" fill="#fff" fill-opacity="0.75"/>
<circle cx="322.29" cy="330.29" r="3.10" fill="#22ccff"/><circle cx="321.59" cy="329.39" r="0.93" fill="#fff" fill-opacity="0.75"/>
<circle cx="337.33" cy="328.23" r="3.10" fill="#22ccff"/><circle cx="336.63" cy="327.33" r="0.93" fill="#fff" fill-opacity="0.75"/>
<circle cx="347.36" cy="325.27" r="3.10" fill="#22ccff"/><circle cx="346.66" cy="324.37" r="0.93" fill="#fff" fill-opacity="0.75"/>
<circle cx="362.39" cy="328.00" r="3.10" fill="#22ccff"/><circle cx="361.69" cy="327.10" r="0.93" fill="#fff" fill-opacity="0.75"/>
<circle cx="387.46" cy="333.08" r="3.10" fill="#22ccff"/><circle cx="386.76" cy="332.18" r="0.93" fill="#fff" fill-opacity="0.75"/>
<circle cx="412.52" cy="327.78" r="3.10" fill="#22ccff"/><circle cx="411.82" cy="326.88" r="0.93" fill="#fff" fill-opacity="0.75"/>
<circle cx="437.59" cy="322.48" r="3.10" fill="#22ccff"/><circle cx="436.89" cy="321.58" r="0.93" fill="#fff" fill-opacity="0.75"/>
<path d="M292.21,321.93 L293.68,321.19 L295.07,320.49 L296.40,319.82 L297.66,319.19 L298.86,318.60 L300.00,318.04 L301.08,317.51 L302.11,317.02 L303.08,316.57 L304.01,316.16 L304.90,315.78 L305.75,315.45 L306.56,315.15 L307.33,314.89 L308.07,314.67 L308.79,314.49 L309.48,314.35 L310.15,314.25 L310.80,314.19 L311.43,314.17 L312.05,314.20 L312.66,314.26 L313.26,314.35 L313.85,314.48 L314.43,314.62 L315.01,314.79 L315.58,314.98 L316.15,315.17 L316.71,315.38 L317.28,315.59 L317.84,315.80 L318.41,316.00 L318.98,316.19 L319.55,316.37 L320.12,316.54 L320.71,316.68 L321.30,316.79 L321.90,316.88 L322.51,316.93 L323.13,316.94 L323.76,316.91 L324.40,316.84 L325.06,316.73 L325.72,316.59 L326.39,316.43 L327.07,316.24 L327.75,316.03 L328.43,315.80 L329.12,315.56 L329.81,315.32 L330.50,315.06 L331.19,314.81 L331.87,314.55 L332.55,314.31 L333.23,314.07 L333.90,313.85 L334.56,313.64 L335.22,313.46 L335.86,313.30 L336.49,313.16 L337.12,313.07 L337.72,313.00 L338.32,312.95 L338.91,312.93 L339.50,312.94 L340.07,312.96 L340.65,313.00 L341.21,313.06 L341.78,313.13 L342.34,313.20 L342.91,313.29 L343.47,313.38 L344.04,313.47 L344.61,313.56 L345.19,313.64 L345.77,313.72 L346.36,313.79 L346.96,313.85 L347.57,313.90 L348.19,313.93 L348.82,313.94 L349.47,313.93 L350.13,313.91 L350.80,313.88 L351.49,313.84 L352.20,313.79 L352.92,313.73 L353.66,313.66 L354.41,313.60 L355.19,313.53 L355.98,313.46 L356.79,313.40 L357.63,313.34 L358.48,313.29 L359.35,313.24 L360.25,313.21 L361.17,313.20 L362.11,313.19 L363.08,313.21 L364.07,313.24 L365.08,313.29 L366.12,313.37 L367.19,313.46 L368.28,313.57 L369.40,313.69 L370.54,313.83 L371.72,313.99 L372.92,314.15 L374.14,314.33 L375.40,314.52 L376.68,314.72 L377.99,314.92 L379.33,315.13 L380.70,315.35 L382.10,315.57 L383.53,315.79 L384.99,316.02 L386.48,316.24 L388.00,316.47 L389.55,316.69 L391.13,316.91 L392.75,317.13 L394.42,317.34 L396.15,317.55 L397.94,317.75 L399.79,317.96 L401.73,318.16 L403.75,318.35 L405.87,318.54 L408.09,318.73 L410.41,318.92 L412.86,319.10 L415.43,319.28 L418.13,319.45 L420.98,319.62 L423.97,319.79 L427.12,319.95 L430.44,320.11 L433.92,320.27 L437.59,320.42" stroke="#99ff00" stroke-width="1.60" fill="none"/>
<path d="M292.21,316.93V326.93 M290.61,316.93H293.81 M290.61,326.93H293.81 " stroke="#99ff00" stroke-width="0.85" fill="none"/>
<path d="M302.24,311.91V321.91 M300.64,311.91H303.84 M300.64,321.91H303.84 " stroke="#99ff00" stroke-width="0.85" fill="none"/>
<path d="M312.26,306.39V316.39 M310.66,306.39H313.87 M310.66,316.39H313.87 " stroke="#99ff00" stroke-width="0.85" fill="none"/>
<path d="M322.29,314.81V324.81 M320.69,314.81H323.89 M320.69,324.81H323.89 " stroke="#99ff00" stroke-width="0.85" fill="none"/>
<path d="M337.33,306.00V316.00 M335.73,306.00H338.93 M335.73,316.00H338.93 " stroke="#99ff00" stroke-width="0.85" fill="none"/>
<path d="M347.36,310.18V320.18 M345.76,310.18H348.96 M345.76,320.18H348.96 " stroke="#99ff00" stroke-width="0.85" fill="none"/>
<path d="M362.39,306.84V316.84 M360.79,306.84H364.00 M360.79,316.84H364.00 " stroke="#99ff00" stroke-width="0.85" fill="none"/>
<path d="M387.46,311.91V321.91 M385.86,311.91H389.06 M385.86,321.91H389.06 " stroke="#99ff00" stroke-width="0.85" fill="none"/>
<path d="M412.52,314.42V324.42 M410.92,314.42H414.12 M410.92,324.42H414.12 " stroke="#99ff00" stroke-width="0.85" fill="none"/>
<path d="M437.59,315.42V325.42 M435.99,315.42H439.19 M435.99,325.42H439.19 " stroke="#99ff00" stroke-width="0.85" fill="none"/>
<circle cx="292.21" cy="321.93" r="3.10" fill="#99ff00"/><circle cx="291.51" cy="321.03" r="0.93" fill="#fff" fill-opacity="0.75"/>
<circle cx="302.24" cy="316.91" r="3.10" fill="#99ff00"/><circle cx="301.54" cy="316.01" r="0.93" fill="#fff" fill-opacity="0.75"/>
<circle cx="312.26" cy="311.39" r="3.10" fill="#99ff00"/><circle cx="311.56" cy="310.49" r="0.93" fill="#fff" fill-opacity="0.75"/>
<circle cx="322.29" cy="319.81" r="3.10" fill="#99ff00"/><circle cx="321.59" cy="318.91" r="0.93" fill="#fff" fill-opacity="0.75"/>
<circle cx="337.33" cy="311.00" r="3.10" fill="#99ff00"/><circle cx="336.63" cy="310.10" r="0.93" fill="#fff" fill-opacity="0.75"/>
<circle cx="347.36" cy="315.18" r="3.10" fill="#99ff00"/><circle cx="346.66" cy="314.28" r="0.93" fill="#fff" fill-opacity="0.75"/>
<circle cx="362.39" cy="311.84" r="3.10" fill="#99ff00"/><circle cx="361.69" cy="310.94" r="0.93" fill="#fff" fill-opacity="0.75"/>
<circle cx="387.46" cy="316.91" r="3.10" fill="#99ff00"/><circle cx="386.76" cy="316.01" r="0.93" fill="#fff" fill-opacity="0.75"/>
<circle cx="412.52" cy="319.42" r="3.10" fill="#99ff00"/><circle cx="411.82" cy="318.52" r="0.93" fill="#fff" fill-opacity="0.75"/>
<circle cx="437.59" cy="320.42" r="3.10" fill="#99ff00"/><circle cx="436.89" cy="319.52" r="0.93" fill="#fff" fill-opacity="0.75"/>
<path d="M292.21,313.12 L293.68,312.05 L295.07,311.08 L296.40,310.19 L297.66,309.38 L298.86,308.65 L300.00,307.99 L301.08,307.40 L302.11,306.87 L303.08,306.39 L304.01,305.97 L304.90,305.60 L305.75,305.27 L306.56,304.98 L307.33,304.72 L308.07,304.49 L308.79,304.28 L309.48,304.09 L310.15,303.92 L310.80,303.76 L311.43,303.60 L312.05,303.45 L312.66,303.29 L313.26,303.14 L313.85,302.98 L314.43,302.83 L315.01,302.68 L315.58,302.54 L316.15,302.39 L316.71,302.25 L317.28,302.11 L317.84,301.97 L318.41,301.84 L318.98,301.71 L319.55,301.59 L320.12,301.47 L320.71,301.35 L321.30,301.24 L321.90,301.14 L322.51,301.04 L323.13,300.95 L323.76,300.86 L324.40,300.78 L325.06,300.71 L325.72,300.64 L326.39,300.57 L327.07,300.51 L327.75,300.45 L328.43,300.39 L329.12,300.34 L329.81,300.29 L330.50,300.24 L331.19,300.19 L331.87,300.14 L332.55,300.09 L333.23,300.04 L333.90,299.98 L334.56,299.93 L335.22,299.87 L335.86,299.81 L336.49,299.75 L337.12,299.68 L337.72,299.61 L338.32,299.54 L338.91,299.47 L339.50,299.40 L340.07,299.33 L340.65,299.27 L341.21,299.22 L341.78,299.17 L342.34,299.13 L342.91,299.10 L343.47,299.09 L344.04,299.08 L344.61,299.09 L345.19,299.12 L345.77,299.17 L346.36,299.23 L346.96,299.32 L347.57,299.42 L348.19,299.55 L348.82,299.71 L349.47,299.88 L350.13,300.08 L350.80,300.29 L351.49,300.52 L352.20,300.76 L352.92,301.01 L353.66,301.26 L354.41,301.52 L355.19,301.78 L355.98,302.04 L356.79,302.29 L357.63,302.54 L358.48,302.78 L359.35,303.01 L360.25,303.22 L361.17,303.42 L362.11,303.60 L363.08,303.75 L364.07,303.88 L365.08,303.99 L366.12,304.07 L367.19,304.13 L368.28,304.17 L369.40,304.21 L370.54,304.23 L371.72,304.25 L372.92,304.27 L374.14,304.29 L375.40,304.32 L376.68,304.36 L377.99,304.42 L379.33,304.49 L380.70,304.58 L382.10,304.71 L383.53,304.86 L384.99,305.04 L386.48,305.26 L388.00,305.53 L389.55,305.83 L391.13,306.19 L392.75,306.59 L394.42,307.04 L396.15,307.52 L397.94,308.05 L399.79,308.61 L401.73,309.21 L403.75,309.84 L405.87,310.50 L408.09,311.18 L410.41,311.89 L412.86,312.62 L415.43,313.38 L418.13,314.14 L420.98,314.93 L423.97,315.72 L427.12,316.52 L430.44,317.34 L433.92,318.15 L437.59,318.97" stroke="#ff8c00" stroke-width="1.60" fill="none"/>
<path d="M292.21,308.12V318.12 M290.61,308.12H293.81 M290.61,318.12H293.81 " stroke="#ff8c00" stroke-width="0.85" fill="none"/>
<path d="M302.24,300.70V310.70 M300.64,300.70H303.84 M300.64,310.70H303.84 " stroke="#ff8c00" stroke-width="0.85" fill="none"/>
<path d="M312.26,298.59V308.59 M310.66,298.59H313.87 M310.66,308.59H313.87 " stroke="#ff8c00" stroke-width="0.85" fill="none"/>
<path d="M322.29,295.52V305.52 M320.69,295.52H323.89 M320.69,305.52H323.89 " stroke="#ff8c00" stroke-width="0.85" fill="none"/>
<path d="M337.33,295.02V305.02 M335.73,295.02H338.93 M335.73,305.02H338.93 " stroke="#ff8c00" stroke-width="0.85" fill="none"/>
<path d="M347.36,292.90V302.90 M345.76,292.90H348.96 M345.76,302.90H348.96 " stroke="#ff8c00" stroke-width="0.85" fill="none"/>
<path d="M362.39,300.70V310.70 M360.79,300.70H364.00 M360.79,310.70H364.00 " stroke="#ff8c00" stroke-width="0.85" fill="none"/>
<path d="M387.46,297.58V307.58 M385.86,297.58H389.06 M385.86,307.58H389.06 " stroke="#ff8c00" stroke-width="0.85" fill="none"/>
<path d="M412.52,308.51V318.51 M410.92,308.51H414.12 M410.92,318.51H414.12 " stroke="#ff8c00" stroke-width="0.85" fill="none"/>
<path d="M437.59,313.97V323.97 M435.99,313.97H439.19 M435.99,323.97H439.19 " stroke="#ff8c00" stroke-width="0.85" fill="none"/>
<circle cx="292.21" cy="313.12" r="3.10" fill="#ff8c00"/><circle cx="291.51" cy="312.22" r="0.93" fill="#fff" fill-opacity="0.75"/>
<circle cx="302.24" cy="305.70" r="3.10" fill="#ff8c00"/><circle cx="301.54" cy="304.80" r="0.93" fill="#fff" fill-opacity="0.75"/>
<circle cx="312.26" cy="303.59" r="3.10" fill="#ff8c00"/><circle cx="311.56" cy="302.69" r="0.93" fill="#fff" fill-opacity="0.75"/>
<circle cx="322.29" cy="300.52" r="3.10" fill="#ff8c00"/><circle cx="321.59" cy="299.62" r="0.93" fill="#fff" fill-opacity="0.75"/>
<circle cx="337.33" cy="300.02" r="3.10" fill="#ff8c00"/><circle cx="336.63" cy="299.12" r="0.93" fill="#fff" fill-opacity="0.75"/>
<circle cx="347.36" cy="297.90" r="3.10" fill="#ff8c00"/><circle cx="346.66" cy="297.00" r="0.93" fill="#fff" fill-opacity="0.75"/>
<circle cx="362.39" cy="305.70" r="3.10" fill="#ff8c00"/><circle cx="361.69" cy="304.80" r="0.93" fill="#fff" fill-opacity="0.75"/>
<circle cx="387.46" cy="302.58" r="3.10" fill="#ff8c00"/><circle cx="386.76" cy="301.68" r="0.93" fill="#fff" fill-opacity="0.75"/>
<circle cx="412.52" cy="313.51" r="3.10" fill="#ff8c00"/><circle cx="411.82" cy="312.61" r="0.93" fill="#fff" fill-opacity="0.75"/>
<circle cx="437.59" cy="318.97" r="3.10" fill="#ff8c00"/><circle cx="436.89" cy="318.07" r="0.93" fill="#fff" fill-opacity="0.75"/>
<path d="M292.21,305.70 L293.68,304.85 L295.07,304.00 L296.40,303.16 L297.66,302.32 L298.86,301.49 L300.00,300.67 L301.08,299.86 L302.11,299.05 L303.08,298.26 L304.01,297.49 L304.90,296.73 L305.75,295.98 L306.56,295.25 L307.33,294.54 L308.07,293.85 L308.79,293.18 L309.48,292.54 L310.15,291.91 L310.80,291.31 L311.43,290.74 L312.05,290.19 L312.66,289.67 L313.26,289.18 L313.85,288.72 L314.43,288.28 L315.01,287.86 L315.58,287.47 L316.15,287.11 L316.71,286.77 L317.28,286.46 L317.84,286.17 L318.41,285.91 L318.98,285.67 L319.55,285.45 L320.12,285.26 L320.71,285.09 L321.30,284.94 L321.90,284.82 L322.51,284.72 L323.13,284.64 L323.76,284.58 L324.40,284.54 L325.06,284.52 L325.72,284.52 L326.39,284.53 L327.07,284.55 L327.75,284.57 L328.43,284.61 L329.12,284.65 L329.81,284.69 L330.50,284.73 L331.19,284.77 L331.87,284.80 L332.55,284.83 L333.23,284.85 L333.90,284.86 L334.56,284.85 L335.22,284.83 L335.86,284.80 L336.49,284.74 L337.12,284.66 L337.72,284.57 L338.32,284.45 L338.91,284.33 L339.50,284.19 L340.07,284.04 L340.65,283.88 L341.21,283.72 L341.78,283.56 L342.34,283.40 L342.91,283.25 L343.47,283.10 L344.04,282.95 L344.61,282.82 L345.19,282.70 L345.77,282.60 L346.36,282.52 L346.96,282.45 L347.57,282.41 L348.19,282.40 L348.82,282.41 L349.47,282.45 L350.13,282.52 L350.80,282.61 L351.49,282.72 L352.20,282.85 L352.92,282.99 L353.66,283.16 L354.41,283.33 L355.19,283.52 L355.98,283.72 L356.79,283.93 L357.63,284.15 L358.48,284.37 L359.35,284.59 L360.25,284.82 L361.17,285.04 L362.11,285.27 L363.08,285.48 L364.07,285.70 L365.08,285.91 L366.12,286.11 L367.19,286.31 L368.28,286.50 L369.40,286.70 L370.54,286.90 L371.72,287.10 L372.92,287.31 L374.14,287.52 L375.40,287.75 L376.68,287.98 L377.99,288.23 L379.33,288.50 L380.70,288.78 L382.10,289.08 L383.53,289.40 L384.99,289.75 L386.48,290.12 L388.00,290.51 L389.55,290.93 L391.13,291.39 L392.75,291.88 L394.42,292.40 L396.15,292.97 L397.94,293.59 L399.79,294.25 L401.73,294.97 L403.75,295.74 L405.87,296.58 L408.09,297.48 L410.41,298.46 L412.86,299.50 L415.43,300.63 L418.13,301.83 L420.98,303.12 L423.97,304.51 L427.12,305.98 L430.44,307.55 L433.92,309.22 L437.59,311.00" stroke="#ff0000" stroke-width="1.60" fill="none"/>
<path d="M292.21,300.70V310.70 M290.61,300.70H293.81 M290.61,310.70H293.81 " stroke="#ff0000" stroke-width="0.85" fill="none"/>
<path d="M302.24,295.02V305.02 M300.64,295.02H303.84 M300.64,305.02H303.84 " stroke="#ff0000" stroke-width="0.85" fill="none"/>
<path d="M312.26,283.92V293.92 M310.66,283.92H313.87 M310.66,293.92H313.87 " stroke="#ff0000" stroke-width="0.85" fill="none"/>
<path d="M322.29,278.18V288.18 M320.69,278.18H323.89 M320.69,288.18H323.89 " stroke="#ff0000" stroke-width="0.85" fill="none"/>
<path d="M337.33,281.19V291.19 M335.73,281.19H338.93 M335.73,291.19H338.93 " stroke="#ff0000" stroke-width="0.85" fill="none"/>
<path d="M347.36,275.50V285.50 M345.76,275.50H348.96 M345.76,285.50H348.96 " stroke="#ff0000" stroke-width="0.85" fill="none"/>
<path d="M362.39,281.19V291.19 M360.79,281.19H364.00 M360.79,291.19H364.00 " stroke="#ff0000" stroke-width="0.85" fill="none"/>
<path d="M387.46,283.92V293.92 M385.86,283.92H389.06 M385.86,293.92H389.06 " stroke="#ff0000" stroke-width="0.85" fill="none"/>
<path d="M412.52,293.79V303.79 M410.92,293.79H414.12 M410.92,303.79H414.12 " stroke="#ff0000" stroke-width="0.85" fill="none"/>
<path d="M437.59,306.00V316.00 M435.99,306.00H439.19 M435.99,316.00H439.19 " stroke="#ff0000" stroke-width="0.85" fill="none"/>
<circle cx="292.21" cy="305.70" r="3.10" fill="#ff0000"/><circle cx="291.51" cy="304.80" r="0.93" fill="#fff" fill-opacity="0.75"/>
<circle cx="302.24" cy="300.02" r="3.10" fill="#ff0000"/><circle cx="301.54" cy="299.12" r="0.93" fill="#fff" fill-opacity="0.75"/>
<circle cx="312.26" cy="288.92" r="3.10" fill="#ff0000"/><circle cx="311.56" cy="288.02" r="0.93" fill="#fff" fill-opacity="0.75"/>
<circle cx="322.29" cy="283.18" r="3.10" fill="#ff0000"/><circle cx="321.59" cy="282.28" r="0.93" fill="#fff" fill-opacity="0.75"/>
<circle cx="337.33" cy="286.19" r="3.10" fill="#ff0000"/><circle cx="336.63" cy="285.29" r="0.93" fill="#fff" fill-opacity="0.75"/>
<circle cx="347.36" cy="280.50" r="3.10" fill="#ff0000"/><circle cx="346.66" cy="279.60" r="0.93" fill="#fff" fill-opacity="0.75"/>
<circle cx="362.39" cy="286.19" r="3.10" fill="#ff0000"/><circle cx="361.69" cy="285.29" r="0.93" fill="#fff" fill-opacity="0.75"/>
<circle cx="387.46" cy="288.92" r="3.10" fill="#ff0000"/><circle cx="386.76" cy="288.02" r="0.93" fill="#fff" fill-opacity="0.75"/>
<circle cx="412.52" cy="298.79" r="3.10" fill="#ff0000"/><circle cx="411.82" cy="297.89" r="0.93" fill="#fff" fill-opacity="0.75"/>
<circle cx="437.59" cy="311.00" r="3.10" fill="#ff0000"/><circle cx="436.89" cy="310.10" r="0.93" fill="#fff" fill-opacity="0.75"/>
<path d="M292.21,292.49 L293.68,290.88 L295.07,289.37 L296.40,287.96 L297.66,286.63 L298.86,285.39 L300.00,284.22 L301.08,283.14 L302.11,282.13 L303.08,281.20 L304.01,280.33 L304.90,279.52 L305.75,278.77 L306.56,278.08 L307.33,277.45 L308.07,276.86 L308.79,276.32 L309.48,275.82 L310.15,275.36 L310.80,274.93 L311.43,274.53 L312.05,274.17 L312.66,273.83 L313.26,273.51 L313.85,273.21 L314.43,272.94 L315.01,272.68 L315.58,272.44 L316.15,272.22 L316.71,272.01 L317.28,271.82 L317.84,271.63 L318.41,271.45 L318.98,271.28 L319.55,271.12 L320.12,270.96 L320.71,270.80 L321.30,270.64 L321.90,270.48 L322.51,270.31 L323.13,270.14 L323.76,269.97 L324.40,269.79 L325.06,269.61 L325.72,269.42 L326.39,269.23 L327.07,269.04 L327.75,268.86 L328.43,268.67 L329.12,268.49 L329.81,268.31 L330.50,268.14 L331.19,267.98 L331.87,267.82 L332.55,267.68 L333.23,267.54 L333.90,267.42 L334.56,267.31 L335.22,267.22 L335.86,267.14 L336.49,267.08 L337.12,267.04 L337.72,267.01 L338.32,267.00 L338.91,267.01 L339.50,267.03 L340.07,267.07 L340.65,267.12 L341.21,267.18 L341.78,267.25 L342.34,267.33 L342.91,267.42 L343.47,267.52 L344.04,267.62 L344.61,267.73 L345.19,267.85 L345.77,267.96 L346.36,268.09 L346.96,268.21 L347.57,268.34 L348.19,268.46 L348.82,268.59 L349.47,268.71 L350.13,268.84 L350.80,268.96 L351.49,269.09 L352.20,269.21 L352.92,269.34 L353.66,269.47 L354.41,269.60 L355.19,269.73 L355.98,269.87 L356.79,270.01 L357.63,270.15 L358.48,270.30 L359.35,270.45 L360.25,270.61 L361.17,270.77 L362.11,270.93 L363.08,271.10 L364.07,271.28 L365.08,271.46 L366.12,271.65 L367.19,271.85 L368.28,272.05 L369.40,272.26 L370.54,272.48 L371.72,272.71 L372.92,272.94 L374.14,273.18 L375.40,273.43 L376.68,273.69 L377.99,273.96 L379.33,274.24 L380.70,274.53 L382.10,274.83 L383.53,275.14 L384.99,275.45 L386.48,275.78 L388.00,276.13 L389.55,276.48 L391.13,276.84 L392.75,277.23 L394.42,277.64 L396.15,278.08 L397.94,278.58 L399.79,279.12 L401.73,279.72 L403.75,280.39 L405.87,281.14 L408.09,281.97 L410.41,282.89 L412.86,283.92 L415.43,285.05 L418.13,286.29 L420.98,287.67 L423.97,289.17 L427.12,290.82 L430.44,292.61 L433.92,294.56 L437.59,296.67" stroke="#8e0000" stroke-width="1.60" fill="none"/>
<path d="M292.21,287.49V297.49 M290.61,287.49H293.81 M290.61,297.49H293.81 " stroke="#8e0000" stroke-width="0.85" fill="none"/>
<path d="M302.24,276.45V286.45 M300.64,276.45H303.84 M300.64,286.45H303.84 " stroke="#8e0000" stroke-width="0.85" fill="none"/>
<path d="M312.26,267.70V277.70 M310.66,267.70H313.87 M310.66,277.70H313.87 " stroke="#8e0000" stroke-width="0.85" fill="none"/>
<path d="M322.29,265.58V275.58 M320.69,265.58H323.89 M320.69,275.58H323.89 " stroke="#8e0000" stroke-width="0.85" fill="none"/>
<path d="M337.33,260.84V270.84 M335.73,260.84H338.93 M335.73,270.84H338.93 " stroke="#8e0000" stroke-width="0.85" fill="none"/>
<path d="M347.36,263.52V273.52 M345.76,263.52H348.96 M345.76,273.52H348.96 " stroke="#8e0000" stroke-width="0.85" fill="none"/>
<path d="M362.39,265.86V275.86 M360.79,265.86H364.00 M360.79,275.86H364.00 " stroke="#8e0000" stroke-width="0.85" fill="none"/>
<path d="M387.46,270.71V280.71 M385.86,270.71H389.06 M385.86,280.71H389.06 " stroke="#8e0000" stroke-width="0.85" fill="none"/>
<path d="M412.52,277.01V287.01 M410.92,277.01H414.12 M410.92,287.01H414.12 " stroke="#8e0000" stroke-width="0.85" fill="none"/>
<path d="M437.59,291.67V301.67 M435.99,291.67H439.19 M435.99,301.67H439.19 " stroke="#8e0000" stroke-width="0.85" fill="none"/>
<circle cx="292.21" cy="292.49" r="3.10" fill="#8e0000"/><circle cx="291.51" cy="291.59" r="0.93" fill="#fff" fill-opacity="0.75"/>
<circle cx="302.24" cy="281.45" r="3.10" fill="#8e0000"/><circle cx="301.54" cy="280.55" r="0.93" fill="#fff" fill-opacity="0.75"/>
<circle cx="312.26" cy="272.70" r="3.10" fill="#8e0000"/><circle cx="311.56" cy="271.80" r="0.93" fill="#fff" fill-opacity="0.75"/>
<circle cx="322.29" cy="270.58" r="3.10" fill="#8e0000"/><circle cx="321.59" cy="269.68" r="0.93" fill="#fff" fill-opacity="0.75"/>
<circle cx="337.33" cy="265.84" r="3.10" fill="#8e0000"/><circle cx="336.63" cy="264.94" r="0.93" fill="#fff" fill-opacity="0.75"/>
<circle cx="347.36" cy="268.52" r="3.10" fill="#8e0000"/><circle cx="346.66" cy="267.62" r="0.93" fill="#fff" fill-opacity="0.75"/>
<circle cx="362.39" cy="270.86" r="3.10" fill="#8e0000"/><circle cx="361.69" cy="269.96" r="0.93" fill="#fff" fill-opacity="0.75"/>
<circle cx="387.46" cy="275.71" r="3.10" fill="#8e0000"/><circle cx="386.76" cy="274.81" r="0.93" fill="#fff" fill-opacity="0.75"/>
<circle cx="412.52" cy="282.01" r="3.10" fill="#8e0000"/><circle cx="411.82" cy="281.11" r="0.93" fill="#fff" fill-opacity="0.75"/>
<circle cx="437.59" cy="296.67" r="3.10" fill="#8e0000"/><circle cx="436.89" cy="295.77" r="0.93" fill="#fff" fill-opacity="0.75"/>
<rect x="277.20" y="227.10" width="170.80" height="162.30" fill="none" stroke="#000" stroke-width="1.80"/>
<text x="415.60" y="254.60" font-size="20" text-anchor="start" font-weight="bold">(e)</text>
<text x="289.30" y="243.80" font-size="11.6" text-anchor="start" >13.9 GHz</text>
<text x="297.50" y="258.50" font-size="11.6" text-anchor="start" >-6 dBm</text>
<line x1="339.20" y1="335.10" x2="323.05" y2="267.69" stroke="#000" stroke-width="1.30"/>
<polygon points="321.30,260.40 326.61,268.38 320.19,269.92" fill="#000"/>
<text x="324.90" y="347.00" font-size="11.6" text-anchor="start" >-20 dBm</text>
<text x="393.00" y="367.50" font-size="11.6" text-anchor="start" >64.1 MHz</text>
<text x="393.00" y="381.40" font-size="11.6" text-anchor="start" >- 6 dBm</text>
<line x1="414.60" y1="347.80" x2="420.40" y2="360.10" stroke="#000" stroke-width="1.10"/>
<text x="362.60" y="424.10" font-size="16" text-anchor="middle" ><tspan font-style="italic">H</tspan> (mT)</text>
<text transform="translate(247.90,319.50) rotate(-90)" font-size="17.5" letter-spacing="0"><tspan font-style="italic">&#916;j</tspan>*/<tspan font-style="italic">j</tspan>*</text>
<path d="M510.99,388.40V383.40 M510.99,226.40V231.40 M539.47,388.40V383.40 M539.47,226.40V231.40 M567.95,388.40V383.40 M567.95,226.40V231.40 M596.44,388.40V383.40 M596.44,226.40V231.40 M624.92,388.40V383.40 M624.92,226.40V231.40 M653.40,388.40V383.40 M653.40,226.40V231.40 M681.88,388.40V383.40 M681.88,226.40V231.40 M525.23,388.40V385.40 M525.23,226.40V229.40 M553.71,388.40V385.40 M553.71,226.40V229.40 M582.19,388.40V385.40 M582.19,226.40V229.40 M610.68,388.40V385.40 M610.68,226.40V229.40 M639.16,388.40V385.40 M639.16,226.40V229.40 M667.64,388.40V385.40 M667.64,226.40V229.40 M511.00,388.40H516.00 M681.90,388.40H676.90 M511.00,358.90H516.00 M681.90,358.90H676.90 M511.00,329.40H516.00 M681.90,329.40H676.90 M511.00,299.90H516.00 M681.90,299.90H676.90 M511.00,270.40H516.00 M681.90,270.40H676.90 M511.00,240.90H516.00 M681.90,240.90H676.90 M511.00,373.65H514.00 M681.90,373.65H678.90 M511.00,344.15H514.00 M681.90,344.15H678.90 M511.00,314.65H514.00 M681.90,314.65H678.90 M511.00,285.15H514.00 M681.90,285.15H678.90 M511.00,255.65H514.00 M681.90,255.65H678.90 " stroke="#000" stroke-width="1.53" fill="none"/>
<text x="510.99" y="404.90" text-anchor="middle" font-size="13">-30</text>
<text x="539.47" y="404.90" text-anchor="middle" font-size="13">-24</text>
<text x="567.95" y="404.90" text-anchor="middle" font-size="13">-18</text>
<text x="596.44" y="404.90" text-anchor="middle" font-size="13">-12</text>
<text x="624.92" y="404.90" text-anchor="middle" font-size="13">-6</text>
<text x="653.40" y="404.90" text-anchor="middle" font-size="13">0</text>
<text x="681.88" y="404.90" text-anchor="middle" font-size="13">6</text>
<text x="504.50" y="392.69" text-anchor="end" font-size="13">0.4</text>
<text x="504.50" y="363.19" text-anchor="end" font-size="13">0.6</text>
<text x="504.50" y="333.69" text-anchor="end" font-size="13">0.8</text>
<text x="504.50" y="304.19" text-anchor="end" font-size="13">1.0</text>
<text x="504.50" y="274.69" text-anchor="end" font-size="13">1.2</text>
<text x="504.50" y="245.19" text-anchor="end" font-size="13">1.4</text>
<g clip-path="url(#cf)">
<path d="M631.20,236.80 C631.10,239.00 631.00,245.47 630.60,250.00 C630.20,254.53 629.65,259.67 628.80,264.00 C627.95,268.33 626.88,272.33 625.50,276.00 C624.12,279.67 622.75,282.87 620.50,286.00 C618.25,289.13 615.42,292.42 612.00,294.80 C608.58,297.18 603.67,299.05 600.00,300.30 C596.33,301.55 592.95,301.82 590.00,302.30 C587.05,302.78 583.58,303.05 582.30,303.20" stroke="#000" stroke-width="2" fill="none" stroke-dasharray="5.8,6.2"/>
<path d="M529.98,299.90 L532.35,299.93 L534.72,299.96 L537.10,299.99 L539.47,300.02 L541.85,300.04 L544.22,300.05 L546.59,300.05 L548.97,300.05 L551.34,300.03 L553.71,300.00 L556.09,299.96 L558.46,299.90 L560.04,299.85 L561.62,299.80 L563.21,299.75 L564.79,299.70 L566.37,299.67 L567.95,299.64 L569.54,299.62 L571.12,299.63 L572.70,299.65 L574.28,299.70 L575.87,299.79 L577.45,299.90 L579.03,300.05 L580.61,300.23 L582.19,300.45 L583.78,300.69 L585.36,300.96 L586.94,301.25 L588.52,301.56 L590.11,301.88 L591.69,302.22 L593.27,302.57 L594.85,302.93 L596.44,303.29 L598.81,303.84 L601.18,304.41 L603.56,304.98 L605.93,305.58 L608.30,306.21 L610.68,306.87 L613.05,307.57 L615.42,308.32 L617.80,309.11 L620.17,309.96 L622.54,310.87 L624.92,311.85 L626.10,312.36 L627.29,312.90 L628.48,313.46 L629.66,314.06 L630.85,314.68 L632.04,315.34 L633.23,316.04 L634.41,316.78 L635.60,317.57 L636.79,318.41 L637.97,319.30 L639.16,320.25 L640.35,321.27 L641.53,322.33 L642.72,323.45 L643.91,324.61 L645.09,325.82 L646.28,327.06 L647.47,328.34 L648.65,329.64 L649.84,330.96 L651.03,332.30 L652.21,333.65 L653.40,335.00 L654.19,335.92 L654.98,336.89 L655.77,337.97 L656.56,339.22 L657.36,340.69 L658.15,342.43 L658.94,344.50 L659.73,346.95 L660.52,349.85 L661.31,353.23 L662.10,357.17 L662.89,361.70 L663.29,364.21 L663.69,366.87 L664.08,369.66 L664.48,372.58 L664.87,375.61 L665.27,378.73 L665.66,381.94 L666.06,385.22 L666.45,388.55 L666.85,391.92 L667.25,395.31 L667.64,398.72" stroke="#7f00ff" stroke-width="1.30" fill="none"/>
<path d="M558.46,294.90V304.90 M556.86,294.90H560.06 M556.86,304.90H560.06 " stroke="#7f00ff" stroke-width="0.85" fill="none"/>
<path d="M577.45,294.90V304.90 M575.85,294.90H579.05 M575.85,304.90H579.05 " stroke="#7f00ff" stroke-width="0.85" fill="none"/>
<path d="M596.44,298.29V308.29 M594.84,298.29H598.04 M594.84,308.29H598.04 " stroke="#7f00ff" stroke-width="0.85" fill="none"/>
<path d="M624.92,306.85V316.85 M623.32,306.85H626.52 M623.32,316.85H626.52 " stroke="#7f00ff" stroke-width="0.85" fill="none"/>
<path d="M639.16,315.25V325.25 M637.56,315.25H640.76 M637.56,325.25H640.76 " stroke="#7f00ff" stroke-width="0.85" fill="none"/>
<path d="M653.40,330.00V340.00 M651.80,330.00H655.00 M651.80,340.00H655.00 " stroke="#7f00ff" stroke-width="0.85" fill="none"/>
<path d="M662.89,356.70V366.70 M661.29,356.70H664.49 M661.29,366.70H664.49 " stroke="#7f00ff" stroke-width="0.85" fill="none"/>
<rect x="556.26" y="297.70" width="4.40" height="4.40" fill="#7f00ff"/>
<rect x="575.25" y="297.70" width="4.40" height="4.40" fill="#7f00ff"/>
<rect x="594.24" y="301.09" width="4.40" height="4.40" fill="#7f00ff"/>
<rect x="622.72" y="309.65" width="4.40" height="4.40" fill="#7f00ff"/>
<rect x="636.96" y="318.06" width="4.40" height="4.40" fill="#7f00ff"/>
<rect x="651.20" y="332.81" width="4.40" height="4.40" fill="#7f00ff"/>
<rect x="660.69" y="359.50" width="4.40" height="4.40" fill="#7f00ff"/>
<path d="M529.98,299.90 L532.35,299.89 L534.72,299.87 L537.10,299.86 L539.47,299.85 L541.85,299.85 L544.22,299.84 L546.59,299.84 L548.97,299.84 L551.34,299.85 L553.71,299.86 L556.09,299.88 L558.46,299.90 L560.04,299.92 L561.62,299.94 L563.21,299.96 L564.79,299.98 L566.37,299.99 L567.95,300.00 L569.54,300.01 L571.12,300.01 L572.70,300.00 L574.28,299.98 L575.87,299.95 L577.45,299.90 L579.03,299.84 L580.61,299.77 L582.19,299.69 L583.78,299.60 L585.36,299.50 L586.94,299.41 L588.52,299.31 L590.11,299.21 L591.69,299.11 L593.27,299.02 L594.85,298.94 L596.44,298.87 L598.81,298.78 L601.18,298.72 L603.56,298.68 L605.93,298.67 L608.30,298.68 L610.68,298.72 L613.05,298.77 L615.42,298.84 L617.80,298.93 L620.17,299.04 L622.54,299.17 L624.92,299.31 L626.10,299.39 L627.29,299.47 L628.48,299.56 L629.66,299.67 L630.85,299.80 L632.04,299.95 L633.23,300.13 L634.41,300.33 L635.60,300.57 L636.79,300.85 L637.97,301.16 L639.16,301.52 L640.35,301.93 L641.53,302.40 L642.72,302.95 L643.91,303.59 L645.09,304.32 L646.28,305.18 L647.47,306.16 L648.65,307.28 L649.84,308.56 L651.03,310.01 L652.21,311.64 L653.40,313.47 L654.19,314.81 L654.98,316.26 L655.77,317.85 L656.56,319.61 L657.36,321.55 L658.15,323.70 L658.94,326.08 L659.73,328.71 L660.52,331.62 L661.31,334.82 L662.10,338.36 L662.89,342.23 L663.29,344.31 L663.69,346.46 L664.08,348.70 L664.48,351.00 L664.87,353.37 L665.27,355.78 L665.66,358.25 L666.06,360.75 L666.45,363.29 L666.85,365.84 L667.25,368.42 L667.64,371.00" stroke="#22ccff" stroke-width="1.30" fill="none"/>
<path d="M558.46,294.90V304.90 M556.86,294.90H560.06 M556.86,304.90H560.06 " stroke="#22ccff" stroke-width="0.85" fill="none"/>
<path d="M577.45,294.90V304.90 M575.85,294.90H579.05 M575.85,304.90H579.05 " stroke="#22ccff" stroke-width="0.85" fill="none"/>
<path d="M596.44,293.87V303.87 M594.84,293.87H598.04 M594.84,303.87H598.04 " stroke="#22ccff" stroke-width="0.85" fill="none"/>
<path d="M624.92,294.31V304.31 M623.32,294.31H626.52 M623.32,304.31H626.52 " stroke="#22ccff" stroke-width="0.85" fill="none"/>
<path d="M639.16,296.52V306.52 M637.56,296.52H640.76 M637.56,306.52H640.76 " stroke="#22ccff" stroke-width="0.85" fill="none"/>
<path d="M653.40,308.47V318.47 M651.80,308.47H655.00 M651.80,318.47H655.00 " stroke="#22ccff" stroke-width="0.85" fill="none"/>
<path d="M662.89,337.23V347.23 M661.29,337.23H664.49 M661.29,347.23H664.49 " stroke="#22ccff" stroke-width="0.85" fill="none"/>
<path d="M667.64,366.00V376.00 M666.04,366.00H669.24 M666.04,376.00H669.24 " stroke="#22ccff" stroke-width="0.85" fill="none"/>
<circle cx="558.46" cy="299.90" r="2.60" fill="#22ccff"/>
<circle cx="577.45" cy="299.90" r="2.60" fill="#22ccff"/>
<circle cx="596.44" cy="298.87" r="2.60" fill="#22ccff"/>
<circle cx="624.92" cy="299.31" r="2.60" fill="#22ccff"/>
<circle cx="639.16" cy="301.52" r="2.60" fill="#22ccff"/>
<circle cx="653.40" cy="313.47" r="2.60" fill="#22ccff"/>
<circle cx="662.89" cy="342.23" r="2.60" fill="#22ccff"/>
<circle cx="667.64" cy="371.00" r="2.60" fill="#22ccff"/>
<path d="M529.98,299.90 L532.35,299.94 L534.72,299.99 L537.10,300.02 L539.47,300.06 L541.85,300.08 L544.22,300.10 L546.59,300.10 L548.97,300.10 L551.34,300.07 L553.71,300.03 L556.09,299.98 L558.46,299.90 L560.04,299.84 L561.62,299.76 L563.21,299.68 L564.79,299.58 L566.37,299.48 L567.95,299.36 L569.54,299.24 L571.12,299.10 L572.70,298.95 L574.28,298.78 L575.87,298.61 L577.45,298.42 L579.03,298.23 L580.61,298.01 L582.19,297.78 L583.78,297.53 L585.36,297.25 L586.94,296.95 L588.52,296.62 L590.11,296.26 L591.69,295.86 L593.27,295.43 L594.85,294.96 L596.44,294.44 L598.81,293.59 L601.18,292.67 L603.56,291.70 L605.93,290.71 L608.30,289.74 L610.68,288.80 L613.05,287.93 L615.42,287.16 L617.80,286.51 L620.17,286.02 L622.54,285.70 L624.92,285.59 L626.10,285.62 L627.29,285.70 L628.48,285.83 L629.66,285.98 L630.85,286.15 L632.04,286.34 L633.23,286.53 L634.41,286.72 L635.60,286.89 L636.79,287.03 L637.97,287.15 L639.16,287.21 L640.35,287.24 L641.53,287.25 L642.72,287.30 L643.91,287.42 L645.09,287.66 L646.28,288.05 L647.47,288.64 L648.65,289.47 L649.84,290.59 L651.03,292.03 L652.21,293.85 L653.40,296.06 L654.19,297.79 L654.98,299.72 L655.77,301.86 L656.56,304.20 L657.36,306.76 L658.15,309.54 L658.94,312.53 L659.73,315.74 L660.52,319.18 L661.31,322.85 L662.10,326.75 L662.89,330.88 L663.29,333.03 L663.69,335.23 L664.08,337.49 L664.48,339.79 L664.87,342.13 L665.27,344.50 L665.66,346.91 L666.06,349.33 L666.45,351.78 L666.85,354.25 L667.25,356.72 L667.64,359.19" stroke="#99ff00" stroke-width="1.30" fill="none"/>
<path d="M558.46,294.90V304.90 M556.86,294.90H560.06 M556.86,304.90H560.06 " stroke="#99ff00" stroke-width="0.85" fill="none"/>
<path d="M577.45,293.42V303.42 M575.85,293.42H579.05 M575.85,303.42H579.05 " stroke="#99ff00" stroke-width="0.85" fill="none"/>
<path d="M596.44,289.44V299.44 M594.84,289.44H598.04 M594.84,299.44H598.04 " stroke="#99ff00" stroke-width="0.85" fill="none"/>
<path d="M624.92,280.59V290.59 M623.32,280.59H626.52 M623.32,290.59H626.52 " stroke="#99ff00" stroke-width="0.85" fill="none"/>
<path d="M639.16,282.21V292.21 M637.56,282.21H640.76 M637.56,292.21H640.76 " stroke="#99ff00" stroke-width="0.85" fill="none"/>
<path d="M653.40,291.06V301.06 M651.80,291.06H655.00 M651.80,301.06H655.00 " stroke="#99ff00" stroke-width="0.85" fill="none"/>
<path d="M662.89,325.88V335.88 M661.29,325.88H664.49 M661.29,335.88H664.49 " stroke="#99ff00" stroke-width="0.85" fill="none"/>
<path d="M667.64,354.19V364.19 M666.04,354.19H669.24 M666.04,364.19H669.24 " stroke="#99ff00" stroke-width="0.85" fill="none"/>
<polygon points="558.46,296.80 555.36,302.07 561.56,302.07" fill="#99ff00"/>
<polygon points="577.45,295.32 574.35,300.59 580.55,300.59" fill="#99ff00"/>
<polygon points="596.44,291.34 593.34,296.61 599.54,296.61" fill="#99ff00"/>
<polygon points="624.92,282.49 621.82,287.76 628.02,287.76" fill="#99ff00"/>
<polygon points="639.16,284.11 636.06,289.38 642.26,289.38" fill="#99ff00"/>
<polygon points="653.40,292.96 650.30,298.23 656.50,298.23" fill="#99ff00"/>
<polygon points="662.89,327.77 659.79,333.05 665.99,333.05" fill="#99ff00"/>
<polygon points="667.64,356.09 664.54,361.37 670.74,361.37" fill="#99ff00"/>
<path d="M529.98,299.90 L532.35,299.98 L534.72,300.06 L537.10,300.13 L539.47,300.19 L541.85,300.24 L544.22,300.27 L546.59,300.28 L548.97,300.27 L551.34,300.22 L553.71,300.15 L556.09,300.05 L558.46,299.90 L560.04,299.78 L561.62,299.63 L563.21,299.46 L564.79,299.24 L566.37,298.98 L567.95,298.67 L569.54,298.30 L571.12,297.86 L572.70,297.35 L574.28,296.76 L575.87,296.09 L577.45,295.33 L579.03,294.47 L580.61,293.52 L582.19,292.50 L583.78,291.42 L585.36,290.30 L586.94,289.14 L588.52,287.96 L590.11,286.77 L591.69,285.59 L593.27,284.42 L594.85,283.29 L596.44,282.20 L598.81,280.67 L601.18,279.26 L603.56,277.98 L605.93,276.82 L608.30,275.77 L610.68,274.84 L613.05,274.01 L615.42,273.29 L617.80,272.68 L620.17,272.17 L622.54,271.75 L624.92,271.43 L626.10,271.31 L627.29,271.21 L628.48,271.16 L629.66,271.14 L630.85,271.18 L632.04,271.28 L633.23,271.44 L634.41,271.68 L635.60,272.00 L636.79,272.40 L637.97,272.90 L639.16,273.50 L640.35,274.21 L641.53,275.02 L642.72,275.95 L643.91,276.98 L645.09,278.12 L646.28,279.37 L647.47,280.73 L648.65,282.19 L649.84,283.77 L651.03,285.45 L652.21,287.24 L653.40,289.13 L654.19,290.46 L654.98,291.88 L655.77,293.44 L656.56,295.17 L657.36,297.12 L658.15,299.34 L658.94,301.86 L659.73,304.73 L660.52,307.99 L661.31,311.68 L662.10,315.86 L662.89,320.55 L663.29,323.10 L663.69,325.79 L664.08,328.58 L664.48,331.49 L664.87,334.49 L665.27,337.57 L665.66,340.72 L666.06,343.93 L666.45,347.19 L666.85,350.49 L667.25,353.80 L667.64,357.13" stroke="#ff8c00" stroke-width="1.30" fill="none"/>
<path d="M558.46,294.90V304.90 M556.86,294.90H560.06 M556.86,304.90H560.06 " stroke="#ff8c00" stroke-width="0.85" fill="none"/>
<path d="M577.45,290.33V300.33 M575.85,290.33H579.05 M575.85,300.33H579.05 " stroke="#ff8c00" stroke-width="0.85" fill="none"/>
<path d="M596.44,277.20V287.20 M594.84,277.20H598.04 M594.84,287.20H598.04 " stroke="#ff8c00" stroke-width="0.85" fill="none"/>
<path d="M624.92,266.43V276.43 M623.32,266.43H626.52 M623.32,276.43H626.52 " stroke="#ff8c00" stroke-width="0.85" fill="none"/>
<path d="M639.16,268.50V278.50 M637.56,268.50H640.76 M637.56,278.50H640.76 " stroke="#ff8c00" stroke-width="0.85" fill="none"/>
<path d="M653.40,284.13V294.13 M651.80,284.13H655.00 M651.80,294.13H655.00 " stroke="#ff8c00" stroke-width="0.85" fill="none"/>
<path d="M662.89,315.55V325.55 M661.29,315.55H664.49 M661.29,325.55H664.49 " stroke="#ff8c00" stroke-width="0.85" fill="none"/>
<path d="M667.64,352.13V362.13 M666.04,352.13H669.24 M666.04,362.13H669.24 " stroke="#ff8c00" stroke-width="0.85" fill="none"/>
<polygon points="558.46,303.00 555.36,297.73 561.56,297.73" fill="#ff8c00"/>
<polygon points="577.45,298.43 574.35,293.16 580.55,293.16" fill="#ff8c00"/>
<polygon points="596.44,285.30 593.34,280.03 599.54,280.03" fill="#ff8c00"/>
<polygon points="624.92,274.53 621.82,269.26 628.02,269.26" fill="#ff8c00"/>
<polygon points="639.16,276.60 636.06,271.33 642.26,271.33" fill="#ff8c00"/>
<polygon points="653.40,292.23 650.30,286.96 656.50,286.96" fill="#ff8c00"/>
<polygon points="662.89,323.65 659.79,318.38 665.99,318.38" fill="#ff8c00"/>
<polygon points="667.64,360.23 664.54,354.96 670.74,354.96" fill="#ff8c00"/>
<path d="M529.98,299.90 L532.35,300.32 L534.72,300.71 L537.10,301.06 L539.47,301.36 L541.85,301.57 L544.22,301.67 L546.59,301.66 L548.97,301.50 L551.34,301.18 L553.71,300.67 L556.09,299.95 L558.46,299.01 L560.04,298.26 L561.62,297.40 L563.21,296.45 L564.79,295.42 L566.37,294.32 L567.95,293.16 L569.54,291.94 L571.12,290.69 L572.70,289.40 L574.28,288.09 L575.87,286.77 L577.45,285.44 L579.03,284.12 L580.61,282.81 L582.19,281.51 L583.78,280.21 L585.36,278.93 L586.94,277.66 L588.52,276.41 L590.11,275.17 L591.69,273.95 L593.27,272.75 L594.85,271.56 L596.44,270.40 L598.81,268.70 L601.18,267.06 L603.56,265.48 L605.93,263.98 L608.30,262.56 L610.68,261.24 L613.05,260.01 L615.42,258.89 L617.80,257.89 L620.17,257.01 L622.54,256.26 L624.92,255.65 L626.10,255.40 L627.29,255.20 L628.48,255.05 L629.66,254.96 L630.85,254.93 L632.04,254.98 L633.23,255.11 L634.41,255.34 L635.60,255.66 L636.79,256.08 L637.97,256.62 L639.16,257.27 L640.35,258.05 L641.53,258.96 L642.72,260.00 L643.91,261.15 L645.09,262.43 L646.28,263.83 L647.47,265.35 L648.65,266.98 L649.84,268.73 L651.03,270.60 L652.21,272.58 L653.40,274.68 L654.19,276.14 L654.98,277.72 L655.77,279.44 L656.56,281.39 L657.36,283.60 L658.15,286.13 L658.94,289.03 L659.73,292.37 L660.52,296.19 L661.31,300.55 L662.10,305.51 L662.89,311.11 L663.29,314.17 L663.69,317.39 L664.08,320.75 L664.48,324.25 L664.87,327.86 L665.27,331.58 L665.66,335.38 L666.06,339.26 L666.45,343.20 L666.85,347.18 L667.25,351.19 L667.64,355.21" stroke="#ff0000" stroke-width="1.30" fill="none"/>
<path d="M558.46,294.01V304.01 M556.86,294.01H560.06 M556.86,304.01H560.06 " stroke="#ff0000" stroke-width="0.85" fill="none"/>
<path d="M577.45,280.44V290.44 M575.85,280.44H579.05 M575.85,290.44H579.05 " stroke="#ff0000" stroke-width="0.85" fill="none"/>
<path d="M596.44,265.40V275.40 M594.84,265.40H598.04 M594.84,275.40H598.04 " stroke="#ff0000" stroke-width="0.85" fill="none"/>
<path d="M624.92,250.65V260.65 M623.32,250.65H626.52 M623.32,260.65H626.52 " stroke="#ff0000" stroke-width="0.85" fill="none"/>
<path d="M639.16,252.27V262.27 M637.56,252.27H640.76 M637.56,262.27H640.76 " stroke="#ff0000" stroke-width="0.85" fill="none"/>
<path d="M653.40,269.68V279.68 M651.80,269.68H655.00 M651.80,279.68H655.00 " stroke="#ff0000" stroke-width="0.85" fill="none"/>
<path d="M662.89,306.11V316.11 M661.29,306.11H664.49 M661.29,316.11H664.49 " stroke="#ff0000" stroke-width="0.85" fill="none"/>
<path d="M667.64,350.21V360.21 M666.04,350.21H669.24 M666.04,360.21H669.24 " stroke="#ff0000" stroke-width="0.85" fill="none"/>
<polygon points="558.46,295.71 561.76,299.01 558.46,302.31 555.16,299.01" fill="#ff0000"/>
<polygon points="577.45,282.14 580.75,285.44 577.45,288.74 574.15,285.44" fill="#ff0000"/>
<polygon points="596.44,267.10 599.74,270.40 596.44,273.70 593.14,270.40" fill="#ff0000"/>
<polygon points="624.92,252.35 628.22,255.65 624.92,258.95 621.62,255.65" fill="#ff0000"/>
<polygon points="639.16,253.97 642.46,257.27 639.16,260.57 635.86,257.27" fill="#ff0000"/>
<polygon points="653.40,271.38 656.70,274.68 653.40,277.98 650.10,274.68" fill="#ff0000"/>
<polygon points="662.89,307.81 666.19,311.11 662.89,314.41 659.59,311.11" fill="#ff0000"/>
<polygon points="667.64,351.91 670.94,355.21 667.64,358.51 664.34,355.21" fill="#ff0000"/>
<path d="M529.98,299.90 L532.35,300.04 L534.72,300.15 L537.10,300.21 L539.47,300.19 L541.85,300.07 L544.22,299.81 L546.59,299.40 L548.97,298.79 L551.34,297.98 L553.71,296.93 L556.09,295.61 L558.46,294.00 L560.04,292.76 L561.62,291.38 L563.21,289.89 L564.79,288.30 L566.37,286.62 L567.95,284.86 L569.54,283.03 L571.12,281.15 L572.70,279.23 L574.28,277.28 L575.87,275.32 L577.45,273.35 L579.03,271.39 L580.61,269.45 L582.19,267.54 L583.78,265.65 L585.36,263.81 L586.94,262.01 L588.52,260.26 L590.11,258.57 L591.69,256.95 L593.27,255.40 L594.85,253.93 L596.44,252.55 L598.81,250.66 L601.18,248.97 L603.56,247.48 L605.93,246.19 L608.30,245.08 L610.68,244.14 L613.05,243.39 L615.42,242.79 L617.80,242.36 L620.17,242.07 L622.54,241.93 L624.92,241.93 L626.10,241.98 L627.29,242.06 L628.48,242.17 L629.66,242.30 L630.85,242.47 L632.04,242.65 L633.23,242.86 L634.41,243.08 L635.60,243.32 L636.79,243.58 L637.97,243.86 L639.16,244.14 L640.35,244.45 L641.53,244.79 L642.72,245.19 L643.91,245.68 L645.09,246.28 L646.28,247.03 L647.47,247.94 L648.65,249.05 L649.84,250.38 L651.03,251.95 L652.21,253.80 L653.40,255.94 L654.19,257.56 L654.98,259.38 L655.77,261.44 L656.56,263.82 L657.36,266.55 L658.15,269.70 L658.94,273.32 L659.73,277.46 L660.52,282.18 L661.31,287.53 L662.10,293.57 L662.89,300.34 L663.29,304.02 L663.69,307.88 L664.08,311.91 L664.48,316.08 L664.87,320.39 L665.27,324.81 L665.66,329.33 L666.06,333.94 L666.45,338.61 L666.85,343.33 L667.25,348.08 L667.64,352.85" stroke="#8e0000" stroke-width="1.30" fill="none"/>
<path d="M558.46,289.00V299.00 M556.86,289.00H560.06 M556.86,299.00H560.06 " stroke="#8e0000" stroke-width="0.85" fill="none"/>
<path d="M577.45,268.35V278.35 M575.85,268.35H579.05 M575.85,278.35H579.05 " stroke="#8e0000" stroke-width="0.85" fill="none"/>
<path d="M596.44,247.55V257.55 M594.84,247.55H598.04 M594.84,257.55H598.04 " stroke="#8e0000" stroke-width="0.85" fill="none"/>
<path d="M624.92,236.93V246.93 M623.32,236.93H626.52 M623.32,246.93H626.52 " stroke="#8e0000" stroke-width="0.85" fill="none"/>
<path d="M639.16,239.14V249.14 M637.56,239.14H640.76 M637.56,249.14H640.76 " stroke="#8e0000" stroke-width="0.85" fill="none"/>
<path d="M653.40,250.94V260.94 M651.80,250.94H655.00 M651.80,260.94H655.00 " stroke="#8e0000" stroke-width="0.85" fill="none"/>
<path d="M662.89,295.34V305.34 M661.29,295.34H664.49 M661.29,305.34H664.49 " stroke="#8e0000" stroke-width="0.85" fill="none"/>
<path d="M667.64,347.85V357.85 M666.04,347.85H669.24 M666.04,357.85H669.24 " stroke="#8e0000" stroke-width="0.85" fill="none"/>
<polygon points="555.36,294.00 560.63,290.90 560.63,297.10" fill="#8e0000"/>
<polygon points="574.35,273.35 579.62,270.25 579.62,276.45" fill="#8e0000"/>
<polygon points="593.34,252.55 598.61,249.45 598.61,255.65" fill="#8e0000"/>
<polygon points="621.82,241.93 627.09,238.83 627.09,245.03" fill="#8e0000"/>
<polygon points="636.06,244.14 641.33,241.04 641.33,247.24" fill="#8e0000"/>
<polygon points="650.30,255.94 655.57,252.84 655.57,259.04" fill="#8e0000"/>
<polygon points="659.79,300.34 665.06,297.24 665.06,303.44" fill="#8e0000"/>
<polygon points="664.54,352.85 669.81,349.75 669.81,355.95" fill="#8e0000"/>
<circle cx="529.98" cy="299.90" r="3.30" fill="#8e0000"/><circle cx="529.28" cy="299.00" r="0.99" fill="#fff" fill-opacity="0.75"/>
<circle cx="667.64" cy="352.85" r="3.00" fill="#8e0000"/>
</g>
<rect x="511.00" y="226.40" width="170.90" height="162.00" fill="none" stroke="#000" stroke-width="1.80"/>
<text x="656.40" y="253.80" font-size="20" text-anchor="start" font-weight="bold">(f)</text>
<text x="521.50" y="253.30" font-size="11.3" text-anchor="start" ><tspan font-style="italic">H</tspan> = 10 mT</text>
<text x="527.6" y="274.7" font-size="13.5"><tspan font-style="italic">P</tspan><tspan font-size="11" dy="4.9">st</tspan></text>
<line x1="543.90" y1="282.40" x2="545.80" y2="293.77" stroke="#000" stroke-width="1.20"/>
<polygon points="546.70,299.20 543.18,292.69 547.92,291.90" fill="#000"/>
<line x1="543.90" y1="282.40" x2="554.63" y2="294.40" stroke="#000" stroke-width="1.20"/>
<polygon points="558.30,298.50 551.84,294.88 555.42,291.68" fill="#000"/>
<line x1="543.90" y1="282.40" x2="567.77" y2="295.46" stroke="#000" stroke-width="1.20"/>
<polygon points="572.60,298.10 565.31,296.85 567.61,292.63" fill="#000"/>
<text x="605.2" y="342.3" font-size="13.5"><tspan font-style="italic">P</tspan><tspan font-size="11" dy="4.9">sup</tspan></text>
<line x1="611.40" y1="328.90" x2="607.22" y2="304.90" stroke="#000" stroke-width="1.20"/>
<polygon points="606.10,298.50 610.23,305.90 604.72,306.86" fill="#000"/>
<line x1="518.00" y1="321.60" x2="543.20" y2="321.60" stroke="#8e0000" stroke-width="1.20"/>
<polygon points="527.60,321.60 532.70,318.60 532.70,324.60" fill="#8e0000"/>
<text x="546.00" y="325.90" font-size="11.1" text-anchor="start" >13.9 GHz</text>
<line x1="518.00" y1="335.70" x2="543.20" y2="335.70" stroke="#ff0000" stroke-width="1.20"/>
<polygon points="530.60,332.50 533.80,335.70 530.60,338.90 527.40,335.70" fill="#ff0000"/>
<text x="546.00" y="340.00" font-size="11.1" text-anchor="start" >10.8 GHz</text>
<line x1="518.00" y1="349.40" x2="543.20" y2="349.40" stroke="#ff8c00" stroke-width="1.20"/>
<polygon points="530.60,352.40 527.60,347.30 533.60,347.30" fill="#ff8c00"/>
<text x="546.00" y="353.70" font-size="11.1" text-anchor="start" >7.55 GHz</text>
<line x1="518.00" y1="362.60" x2="543.20" y2="362.60" stroke="#99ff00" stroke-width="1.20"/>
<polygon points="530.60,359.60 527.60,364.70 533.60,364.70" fill="#99ff00"/>
<text x="546.00" y="366.90" font-size="11.1" text-anchor="start" >3.77 GHz</text>
<line x1="518.00" y1="376.10" x2="543.20" y2="376.10" stroke="#22ccff" stroke-width="1.20"/>
<circle cx="530.60" cy="376.10" r="2.80" fill="#22ccff"/>
<text x="546.00" y="380.40" font-size="11.1" text-anchor="start" >1.02 GHz</text>
<line x1="595.20" y1="376.20" x2="620.80" y2="376.20" stroke="#7f00ff" stroke-width="1.20"/>
<rect x="605.30" y="373.90" width="4.60" height="4.60" fill="#7f00ff"/>
<text x="623.20" y="380.50" font-size="11.1" text-anchor="start" >64.1 MHz</text>
<text x="596.5" y="424.1" font-size="16" text-anchor="middle"><tspan font-style="italic">P</tspan> (dBm)</text>
<text transform="translate(481.20,328.40) rotate(-90)" font-size="16.8" letter-spacing="0"><tspan font-style="italic">V</tspan><tspan dy="-2.5">*</tspan><tspan font-size="14.6" dy="7.1" dx="0.8">mw</tspan><tspan dy="-4.6" dx="0.5"> /</tspan><tspan font-style="italic">V</tspan><tspan dy="-2.5">*</tspan></text>
</svg>
</body></html>
